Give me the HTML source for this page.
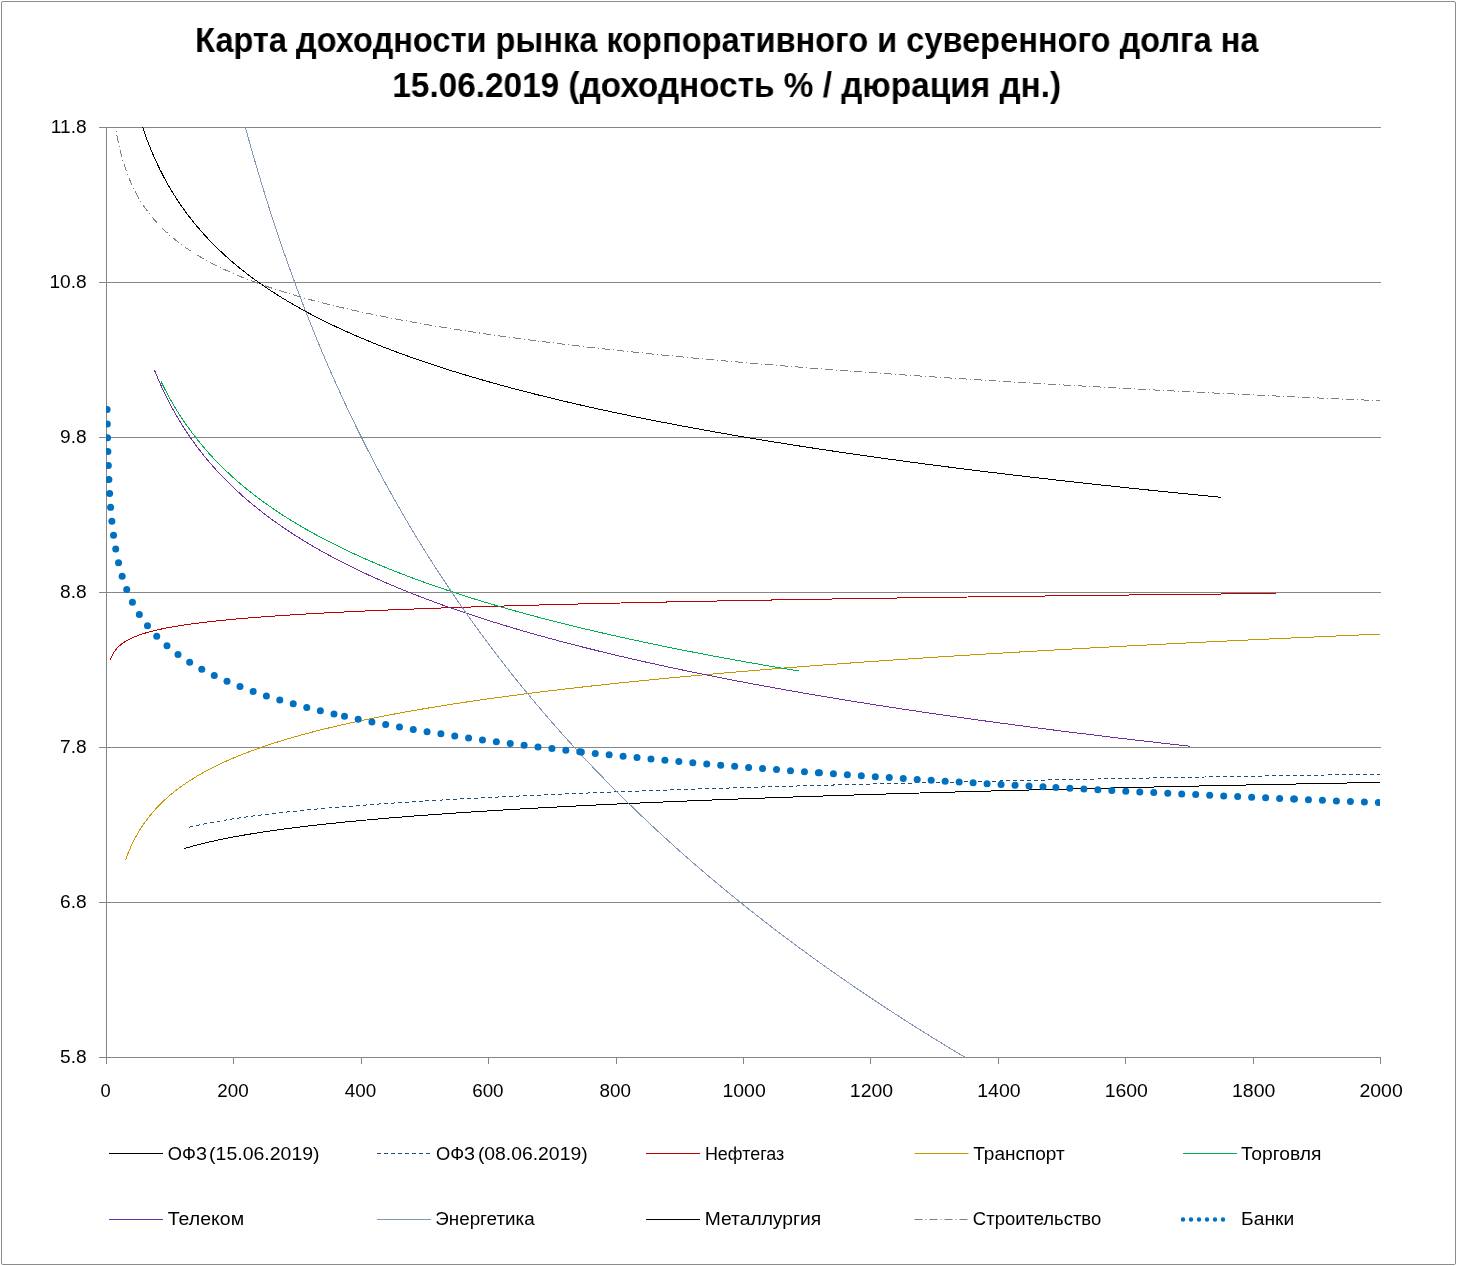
<!DOCTYPE html>
<html><head><meta charset="utf-8"><style>
html,body{margin:0;padding:0;background:#fff;}
body{width:1457px;height:1266px;position:relative;overflow:hidden;font-family:"Liberation Sans",sans-serif;}
#frame{position:absolute;left:1px;top:1px;width:1453px;height:1262px;border:1px solid #8c8c8c;border-radius:2px;}
.t{position:absolute;left:0;width:1457px;text-align:center;font-weight:bold;font-size:34.8px;white-space:nowrap;color:#000;line-height:1}
.t span{display:inline-block;will-change:transform}
svg{position:absolute;left:0;top:0;will-change:transform}
svg text{font-family:"Liberation Sans",sans-serif;font-size:18.3px;fill:#000}
</style></head><body>
<div id="frame"></div>
<div class="t" style="top:23px"><span style="transform:translateX(-1.3px) scaleX(0.936)">Карта доходности рынка корпоративного и суверенного долга на</span></div>
<div class="t" style="top:68px"><span style="transform:translateX(-2.3px) scaleX(0.958)">15.06.2019 (доходность % / дюрация дн.)</span></div>
<svg width="1457" height="1266" viewBox="0 0 1457 1266">
<defs><clipPath id="pc"><rect x="106" y="127" width="1274" height="931"/></clipPath></defs>
<g stroke="#868686" stroke-width="1" shape-rendering="crispEdges"><line x1="99" y1="127.5" x2="1381" y2="127.5"/><line x1="99" y1="282.5" x2="1381" y2="282.5"/><line x1="99" y1="437.5" x2="1381" y2="437.5"/><line x1="99" y1="592.5" x2="1381" y2="592.5"/><line x1="99" y1="747.5" x2="1381" y2="747.5"/><line x1="99" y1="902.5" x2="1381" y2="902.5"/><line x1="99" y1="1057.5" x2="1381" y2="1057.5"/>
<line x1="106.5" y1="127" x2="106.5" y2="1064"/><line x1="106.5" y1="1057" x2="106.5" y2="1064"/><line x1="233.9" y1="1057" x2="233.9" y2="1064"/><line x1="361.3" y1="1057" x2="361.3" y2="1064"/><line x1="488.7" y1="1057" x2="488.7" y2="1064"/><line x1="616.1" y1="1057" x2="616.1" y2="1064"/><line x1="743.5" y1="1057" x2="743.5" y2="1064"/><line x1="870.9" y1="1057" x2="870.9" y2="1064"/><line x1="998.3" y1="1057" x2="998.3" y2="1064"/><line x1="1125.7" y1="1057" x2="1125.7" y2="1064"/><line x1="1253.1" y1="1057" x2="1253.1" y2="1064"/><line x1="1380.5" y1="1057" x2="1380.5" y2="1064"/></g>
<g clip-path="url(#pc)">
<path d="M184.40 848.56 L185.13 848.34 L185.87 848.11 L186.62 847.89 L187.37 847.67 L188.13 847.45 L188.40 847.37 L188.89 847.23 L189.67 847.01 L190.45 846.79 L191.24 846.56 L192.03 846.34 L192.40 846.24 L192.83 846.12 L193.65 845.90 L194.46 845.68 L195.29 845.46 L196.12 845.24 L196.40 845.16 L196.97 845.02 L197.81 844.79 L198.67 844.57 L199.54 844.35 L200.40 844.13 L200.41 844.13 L201.29 843.91 L202.18 843.69 L203.08 843.47 L203.99 843.24 L204.40 843.14 L204.90 843.02 L205.83 842.80 L206.76 842.58 L207.70 842.36 L208.40 842.20 L208.65 842.14 L209.61 841.92 L210.58 841.69 L211.56 841.47 L212.40 841.28 L212.54 841.25 L213.54 841.03 L214.54 840.81 L215.56 840.59 L216.40 840.41 L216.58 840.37 L217.62 840.15 L218.66 839.92 L219.71 839.70 L220.40 839.56 L220.78 839.48 L221.85 839.26 L222.93 839.04 L224.03 838.82 L224.40 838.74 L225.13 838.60 L226.24 838.37 L227.37 838.15 L228.40 837.95 L228.50 837.93 L229.65 837.71 L230.80 837.49 L231.97 837.27 L232.40 837.19 L233.15 837.05 L234.34 836.83 L235.54 836.60 L236.40 836.45 L236.75 836.38 L237.97 836.16 L239.21 835.94 L240.40 835.73 L240.45 835.72 L241.71 835.50 L242.98 835.28 L244.26 835.05 L244.41 835.03 L245.56 834.83 L246.86 834.61 L248.18 834.39 L248.41 834.35 L249.51 834.17 L250.85 833.95 L252.21 833.73 L252.41 833.69 L253.58 833.50 L254.96 833.28 L256.35 833.06 L256.41 833.05 L257.76 832.84 L259.18 832.62 L260.41 832.43 L260.61 832.40 L262.06 832.18 L263.52 831.96 L264.41 831.82 L265.00 831.73 L266.48 831.51 L267.99 831.29 L268.41 831.23 L269.50 831.07 L271.03 830.85 L272.41 830.65 L272.58 830.63 L274.14 830.41 L275.71 830.18 L276.41 830.09 L277.30 829.96 L278.91 829.74 L280.41 829.54 L280.52 829.52 L282.16 829.30 L283.81 829.08 L284.41 829.00 L285.47 828.86 L287.15 828.64 L288.41 828.47 L288.85 828.41 L290.56 828.19 L292.29 827.97 L292.41 827.96 L294.03 827.75 L295.80 827.53 L296.41 827.45 L297.57 827.31 L299.37 827.09 L300.41 826.96 L301.18 826.86 L303.01 826.64 L304.41 826.47 L304.85 826.42 L306.71 826.20 L308.41 826.00 L308.59 825.98 L310.49 825.76 L312.41 825.54 L312.41 825.54 L314.34 825.31 L316.29 825.09 L316.41 825.08 L318.26 824.87 L320.25 824.65 L320.41 824.63 L322.26 824.43 L324.28 824.21 L324.41 824.19 L326.33 823.99 L328.39 823.77 L328.41 823.76 L330.48 823.54 L332.41 823.34 L332.58 823.32 L334.70 823.10 L336.41 822.92 L336.84 822.88 L339.01 822.66 L340.41 822.52 L341.19 822.44 L343.39 822.22 L344.41 822.11 L345.62 821.99 L347.86 821.77 L348.41 821.72 L350.13 821.55 L352.41 821.33 L352.42 821.33 L354.73 821.11 L356.41 820.95 L357.06 820.89 L359.41 820.67 L360.41 820.57 L361.79 820.45 L364.18 820.22 L364.42 820.20 L366.60 820.00 L368.42 819.84 L369.04 819.78 L371.51 819.56 L372.42 819.48 L374.00 819.34 L376.42 819.13 L376.51 819.12 L379.05 818.90 L380.42 818.78 L381.60 818.67 L384.19 818.45 L384.42 818.43 L386.80 818.23 L388.42 818.09 L389.43 818.01 L392.08 817.79 L392.42 817.76 L394.77 817.57 L396.42 817.43 L397.47 817.35 L400.20 817.12 L400.42 817.11 L402.96 816.90 L404.42 816.79 L405.75 816.68 L408.42 816.47 L408.56 816.46 L411.39 816.24 L412.42 816.16 L414.26 816.02 L416.42 815.85 L417.15 815.80 L420.06 815.58 L420.42 815.55 L423.01 815.35 L424.42 815.25 L425.98 815.13 L428.42 814.95 L428.98 814.91 L432.01 814.69 L432.42 814.66 L435.06 814.47 L436.42 814.37 L438.15 814.25 L440.42 814.09 L441.26 814.03 L444.41 813.80 L444.42 813.80 L447.58 813.58 L448.42 813.52 L450.78 813.36 L452.42 813.25 L454.01 813.14 L456.42 812.98 L457.28 812.92 L460.42 812.71 L460.57 812.70 L463.90 812.48 L464.42 812.44 L467.25 812.25 L468.42 812.18 L470.64 812.03 L472.42 811.92 L474.06 811.81 L476.42 811.66 L477.51 811.59 L480.42 811.41 L480.99 811.37 L484.43 811.15 L484.51 811.15 L488.06 810.93 L488.43 810.90 L491.64 810.71 L492.43 810.66 L495.26 810.48 L496.43 810.41 L498.91 810.26 L500.43 810.17 L502.59 810.04 L504.43 809.93 L506.31 809.82 L508.43 809.70 L510.07 809.60 L512.43 809.46 L513.86 809.38 L516.43 809.23 L517.68 809.16 L520.43 809.00 L521.54 808.93 L524.43 808.77 L525.44 808.71 L528.43 808.54 L529.37 808.49 L532.43 808.32 L533.34 808.27 L536.43 808.10 L537.35 808.05 L540.43 807.88 L541.40 807.83 L544.43 807.66 L545.48 807.61 L548.43 807.45 L549.60 807.39 L552.43 807.23 L553.76 807.16 L556.43 807.02 L557.96 806.94 L560.43 806.81 L562.20 806.72 L564.43 806.61 L566.48 806.50 L568.43 806.40 L570.80 806.28 L572.43 806.20 L575.16 806.06 L576.43 805.99 L579.56 805.84 L580.43 805.79 L584.00 805.61 L584.43 805.59 L588.43 805.40 L588.49 805.39 L592.43 805.20 L593.01 805.17 L596.43 805.01 L597.58 804.95 L600.43 804.81 L602.19 804.73 L604.44 804.62 L606.85 804.51 L608.44 804.43 L611.55 804.29 L612.44 804.24 L616.29 804.06 L616.44 804.06 L620.44 803.87 L621.08 803.84 L624.44 803.69 L625.91 803.62 L628.44 803.51 L630.78 803.40 L632.44 803.33 L635.71 803.18 L636.44 803.15 L640.44 802.97 L640.68 802.96 L644.44 802.79 L645.69 802.74 L648.44 802.62 L650.76 802.52 L652.44 802.44 L655.87 802.29 L656.44 802.27 L660.44 802.10 L661.02 802.07 L664.44 801.93 L666.23 801.85 L668.44 801.76 L671.49 801.63 L672.44 801.59 L676.44 801.42 L676.79 801.41 L680.44 801.26 L682.15 801.19 L684.44 801.09 L687.55 800.97 L688.44 800.93 L692.44 800.77 L693.01 800.74 L696.44 800.61 L698.52 800.52 L700.44 800.45 L704.08 800.30 L704.44 800.29 L708.44 800.13 L709.69 800.08 L712.44 799.97 L715.35 799.86 L716.44 799.82 L720.44 799.66 L721.07 799.64 L724.45 799.51 L726.84 799.42 L728.45 799.36 L732.45 799.20 L732.66 799.20 L736.45 799.05 L738.54 798.97 L740.45 798.90 L744.45 798.75 L744.48 798.75 L748.45 798.61 L750.47 798.53 L752.45 798.46 L756.45 798.31 L756.52 798.31 L760.45 798.17 L762.62 798.09 L764.45 798.02 L768.45 797.88 L768.78 797.87 L772.45 797.74 L775.00 797.65 L776.45 797.59 L780.45 797.45 L781.28 797.42 L784.45 797.31 L787.61 797.20 L788.45 797.17 L792.45 797.04 L794.01 796.98 L796.45 796.90 L800.45 796.76 L800.46 796.76 L804.45 796.62 L806.98 796.54 L808.45 796.49 L812.45 796.35 L813.56 796.32 L816.45 796.22 L820.20 796.10 L820.45 796.09 L824.45 795.96 L826.90 795.87 L828.45 795.82 L832.45 795.69 L833.66 795.65 L836.45 795.56 L840.45 795.43 L840.49 795.43 L844.46 795.30 L847.38 795.21 L848.46 795.18 L852.46 795.05 L854.34 794.99 L856.46 794.92 L860.46 794.80 L861.36 794.77 L864.46 794.67 L868.45 794.55 L868.46 794.55 L872.46 794.42 L875.60 794.33 L876.46 794.30 L880.46 794.18 L882.83 794.10 L884.46 794.05 L888.46 793.93 L890.12 793.88 L892.46 793.81 L896.46 793.69 L897.47 793.66 L900.46 793.57 L904.46 793.45 L904.90 793.44 L908.46 793.33 L912.40 793.22 L912.46 793.22 L916.46 793.10 L919.97 793.00 L920.46 792.98 L924.46 792.87 L927.60 792.78 L928.46 792.75 L932.46 792.64 L935.31 792.55 L936.46 792.52 L940.46 792.41 L943.10 792.33 L944.46 792.29 L948.46 792.18 L950.95 792.11 L952.46 792.07 L956.46 791.96 L958.88 791.89 L960.46 791.85 L964.47 791.74 L966.88 791.67 L968.47 791.63 L972.47 791.52 L974.96 791.45 L976.47 791.41 L980.47 791.30 L983.12 791.23 L984.47 791.19 L988.47 791.08 L991.35 791.01 L992.47 790.98 L996.47 790.87 L999.66 790.78 L1000.47 790.76 L1004.47 790.66 L1008.05 790.56 L1008.47 790.55 L1012.47 790.45 L1016.47 790.34 L1016.51 790.34 L1020.47 790.24 L1024.47 790.13 L1025.06 790.12 L1028.47 790.03 L1032.47 789.93 L1033.68 789.90 L1036.47 789.83 L1040.47 789.73 L1042.39 789.68 L1044.47 789.62 L1048.47 789.52 L1051.17 789.46 L1052.47 789.42 L1056.47 789.32 L1060.05 789.23 L1060.47 789.22 L1064.47 789.12 L1068.47 789.03 L1069.00 789.01 L1072.47 788.93 L1076.47 788.83 L1078.04 788.79 L1080.47 788.73 L1084.48 788.64 L1087.16 788.57 L1088.48 788.54 L1092.48 788.44 L1096.37 788.35 L1096.48 788.35 L1100.48 788.25 L1104.48 788.16 L1105.66 788.13 L1108.48 788.06 L1112.48 787.97 L1115.04 787.91 L1116.48 787.87 L1120.48 787.78 L1124.48 787.69 L1124.51 787.68 L1128.48 787.59 L1132.48 787.50 L1134.07 787.46 L1136.48 787.41 L1140.48 787.32 L1143.72 787.24 L1144.48 787.22 L1148.48 787.13 L1152.48 787.04 L1153.46 787.02 L1156.48 786.95 L1160.48 786.86 L1163.29 786.80 L1164.48 786.77 L1168.48 786.68 L1172.48 786.59 L1173.22 786.58 L1176.48 786.51 L1180.48 786.42 L1183.23 786.36 L1184.48 786.33 L1188.48 786.24 L1192.48 786.15 L1193.34 786.14 L1196.48 786.07 L1200.48 785.98 L1203.55 785.91 L1204.49 785.89 L1208.49 785.81 L1212.49 785.72 L1213.85 785.69 L1216.49 785.64 L1220.49 785.55 L1224.25 785.47 L1224.49 785.47 L1228.49 785.38 L1232.49 785.30 L1234.74 785.25 L1236.49 785.21 L1240.49 785.13 L1244.49 785.05 L1245.34 785.03 L1248.49 784.96 L1252.49 784.88 L1256.03 784.81 L1256.49 784.80 L1260.49 784.72 L1264.49 784.63 L1266.83 784.59 L1268.49 784.55 L1272.49 784.47 L1276.49 784.39 L1277.72 784.36 L1280.49 784.31 L1284.49 784.23 L1288.49 784.15 L1288.72 784.14 L1292.49 784.07 L1296.49 783.99 L1299.82 783.92 L1300.49 783.91 L1304.49 783.83 L1308.49 783.75 L1311.02 783.70 L1312.49 783.67 L1316.49 783.59 L1320.49 783.51 L1322.33 783.48 L1324.50 783.44 L1328.50 783.36 L1332.50 783.28 L1333.75 783.26 L1336.50 783.20 L1340.50 783.13 L1344.50 783.05 L1345.28 783.04 L1348.50 782.97 L1352.50 782.90 L1356.50 782.82 L1356.91 782.81 L1360.50 782.75 L1364.50 782.67 L1368.50 782.60 L1368.65 782.59 L1372.50 782.52 L1376.50 782.45 L1380.50 782.37" fill="none" stroke="#000" stroke-width="1" shape-rendering="crispEdges"/>
<path d="M189.20 827.15 L189.96 826.98 L190.73 826.80 L191.50 826.62 L192.28 826.44 L193.07 826.27 L193.18 826.24 L193.87 826.09 L194.67 825.91 L195.48 825.73 L196.30 825.56 L197.12 825.38 L197.17 825.37 L197.95 825.20 L198.79 825.02 L199.64 824.85 L200.50 824.67 L201.15 824.53 L201.36 824.49 L202.23 824.32 L203.11 824.14 L204.00 823.96 L204.90 823.78 L205.14 823.74 L205.80 823.61 L206.71 823.43 L207.63 823.25 L208.56 823.07 L209.12 822.97 L209.50 822.90 L210.45 822.72 L211.40 822.54 L212.37 822.36 L213.11 822.23 L213.34 822.19 L214.32 822.01 L215.31 821.83 L216.31 821.66 L217.09 821.52 L217.32 821.48 L218.34 821.30 L219.36 821.12 L220.40 820.95 L221.07 820.83 L221.45 820.77 L222.50 820.59 L223.57 820.41 L224.65 820.24 L225.06 820.17 L225.73 820.06 L226.83 819.88 L227.93 819.70 L229.04 819.53 L229.05 819.53 L230.17 819.35 L231.31 819.17 L232.46 819.00 L233.03 818.91 L233.61 818.82 L234.78 818.64 L235.96 818.46 L237.01 818.31 L237.15 818.29 L238.35 818.11 L239.56 817.93 L240.79 817.75 L241.00 817.72 L242.02 817.58 L243.26 817.40 L244.52 817.22 L244.98 817.16 L245.79 817.04 L247.07 816.87 L248.36 816.69 L248.96 816.61 L249.66 816.51 L250.98 816.34 L252.31 816.16 L252.95 816.07 L253.65 815.98 L255.00 815.80 L256.36 815.63 L256.93 815.55 L257.74 815.45 L259.13 815.27 L260.53 815.09 L260.92 815.05 L261.95 814.92 L263.38 814.74 L264.82 814.56 L264.90 814.55 L266.27 814.38 L267.74 814.21 L268.89 814.07 L269.22 814.03 L270.72 813.85 L272.22 813.67 L272.87 813.60 L273.75 813.50 L275.28 813.32 L276.83 813.14 L276.85 813.14 L278.40 812.97 L279.98 812.79 L280.84 812.69 L281.57 812.61 L283.18 812.43 L284.81 812.26 L284.82 812.25 L286.44 812.08 L288.10 811.90 L288.81 811.83 L289.77 811.72 L291.45 811.55 L292.79 811.41 L293.15 811.37 L294.86 811.19 L296.59 811.01 L296.78 811.00 L298.34 810.84 L300.10 810.66 L300.76 810.59 L301.88 810.48 L303.68 810.31 L304.74 810.20 L305.49 810.13 L307.32 809.95 L308.73 809.82 L309.16 809.77 L311.02 809.60 L312.71 809.44 L312.90 809.42 L314.80 809.24 L316.70 809.07 L316.71 809.06 L318.65 808.89 L320.59 808.71 L320.68 808.70 L322.56 808.53 L324.55 808.35 L324.67 808.34 L326.55 808.18 L328.57 808.00 L328.65 807.99 L330.61 807.82 L332.63 807.65 L332.67 807.65 L334.75 807.47 L336.62 807.31 L336.85 807.29 L338.96 807.11 L340.60 806.98 L341.10 806.94 L343.26 806.76 L344.59 806.65 L345.43 806.58 L347.63 806.40 L348.57 806.33 L349.84 806.23 L352.08 806.05 L352.56 806.01 L354.33 805.87 L356.54 805.70 L356.61 805.69 L358.91 805.52 L360.52 805.39 L361.23 805.34 L363.57 805.16 L364.51 805.09 L365.93 804.99 L368.31 804.81 L368.49 804.80 L370.72 804.63 L372.48 804.50 L373.15 804.45 L375.60 804.28 L376.46 804.21 L378.07 804.10 L380.45 803.93 L380.56 803.92 L383.08 803.74 L384.43 803.65 L385.62 803.57 L388.19 803.39 L388.41 803.37 L390.78 803.21 L392.40 803.10 L393.39 803.03 L396.02 802.86 L396.38 802.83 L398.69 802.68 L400.37 802.57 L401.37 802.50 L404.08 802.33 L404.35 802.31 L406.81 802.15 L408.34 802.05 L409.57 801.97 L412.32 801.80 L412.36 801.79 L415.17 801.62 L416.30 801.55 L418.00 801.44 L420.29 801.30 L420.87 801.26 L423.75 801.08 L424.27 801.05 L426.67 800.91 L428.26 800.81 L429.61 800.73 L432.24 800.57 L432.58 800.55 L435.58 800.37 L436.23 800.34 L438.60 800.20 L440.21 800.10 L441.65 800.02 L444.19 799.87 L444.73 799.84 L447.84 799.67 L448.18 799.65 L450.97 799.49 L452.16 799.42 L454.14 799.31 L456.15 799.20 L457.33 799.13 L460.13 798.98 L460.56 798.96 L463.81 798.78 L464.12 798.76 L467.09 798.60 L468.10 798.55 L470.41 798.42 L472.08 798.34 L473.75 798.25 L476.07 798.12 L477.12 798.07 L480.05 797.92 L480.53 797.89 L483.97 797.71 L484.04 797.71 L487.43 797.54 L488.02 797.51 L490.93 797.36 L492.01 797.31 L494.47 797.18 L495.99 797.11 L498.03 797.01 L499.97 796.91 L501.63 796.83 L503.96 796.71 L505.26 796.65 L507.94 796.52 L508.92 796.47 L511.93 796.33 L512.62 796.30 L515.91 796.14 L516.35 796.12 L519.90 795.95 L520.12 795.94 L523.88 795.77 L523.92 795.76 L527.75 795.59 L527.86 795.58 L531.62 795.41 L531.85 795.40 L535.53 795.23 L535.83 795.22 L539.47 795.05 L539.82 795.04 L543.45 794.88 L543.80 794.86 L547.46 794.70 L547.79 794.69 L551.52 794.52 L551.77 794.51 L555.60 794.35 L555.75 794.34 L559.73 794.17 L559.74 794.17 L563.72 794.00 L563.90 793.99 L567.71 793.83 L568.10 793.81 L571.69 793.66 L572.34 793.64 L575.68 793.50 L576.62 793.46 L579.66 793.33 L580.94 793.28 L583.64 793.17 L585.30 793.10 L587.63 793.01 L589.70 792.93 L591.61 792.85 L594.14 792.75 L595.60 792.69 L598.62 792.57 L599.58 792.53 L603.14 792.39 L603.57 792.38 L607.55 792.22 L607.70 792.22 L611.53 792.07 L612.31 792.04 L615.52 791.92 L616.95 791.86 L619.50 791.77 L621.65 791.69 L623.49 791.62 L626.38 791.51 L627.47 791.47 L631.15 791.33 L631.46 791.32 L635.44 791.17 L635.98 791.15 L639.42 791.03 L640.84 790.98 L643.41 790.88 L645.75 790.80 L647.39 790.74 L650.70 790.62 L651.38 790.60 L655.36 790.46 L655.70 790.44 L659.35 790.32 L660.75 790.27 L663.33 790.18 L665.84 790.09 L667.31 790.04 L670.98 789.91 L671.30 789.90 L675.28 789.77 L676.17 789.73 L679.27 789.63 L681.40 789.56 L683.25 789.50 L686.69 789.38 L687.24 789.36 L691.22 789.23 L692.02 789.20 L695.20 789.10 L697.40 789.03 L699.19 788.97 L702.83 788.85 L703.17 788.84 L707.16 788.71 L708.30 788.67 L711.14 788.58 L713.83 788.49 L715.13 788.45 L719.11 788.33 L719.41 788.32 L723.09 788.20 L725.05 788.14 L727.08 788.08 L730.73 787.96 L731.06 787.95 L735.05 787.83 L736.46 787.78 L739.03 787.71 L742.25 787.61 L743.02 787.58 L747.00 787.46 L748.09 787.43 L750.98 787.34 L753.99 787.25 L754.97 787.22 L758.95 787.10 L759.94 787.07 L762.94 786.99 L765.94 786.90 L766.92 786.87 L770.91 786.75 L772.00 786.72 L774.89 786.64 L778.12 786.54 L778.87 786.52 L782.86 786.41 L784.29 786.37 L786.84 786.29 L790.51 786.19 L790.83 786.18 L794.81 786.07 L796.80 786.01 L798.79 785.95 L802.78 785.84 L803.14 785.83 L806.76 785.73 L809.54 785.66 L810.75 785.62 L814.73 785.51 L816.00 785.48 L818.72 785.40 L822.52 785.30 L822.70 785.30 L826.68 785.19 L829.10 785.12 L830.67 785.08 L834.65 784.98 L835.74 784.95 L838.64 784.87 L842.44 784.77 L842.62 784.76 L846.61 784.66 L849.20 784.59 L850.59 784.56 L854.57 784.45 L856.03 784.41 L858.56 784.35 L862.54 784.25 L862.91 784.24 L866.53 784.15 L869.86 784.06 L870.51 784.04 L874.50 783.94 L876.88 783.88 L878.48 783.84 L882.46 783.74 L883.95 783.71 L886.45 783.64 L890.43 783.54 L891.10 783.53 L894.42 783.45 L898.31 783.35 L898.40 783.35 L902.39 783.25 L905.58 783.17 L906.37 783.15 L910.35 783.06 L912.92 783.00 L914.34 782.96 L918.32 782.87 L920.33 782.82 L922.31 782.77 L926.29 782.68 L927.81 782.64 L930.28 782.58 L934.26 782.49 L935.36 782.46 L938.24 782.40 L942.23 782.30 L942.97 782.29 L946.21 782.21 L950.20 782.12 L950.66 782.11 L954.18 782.03 L958.17 781.94 L958.41 781.93 L962.15 781.85 L966.13 781.76 L966.24 781.75 L970.12 781.67 L974.10 781.58 L974.14 781.58 L978.09 781.49 L982.07 781.40 L982.11 781.40 L986.06 781.31 L990.04 781.23 L990.16 781.22 L994.02 781.14 L998.01 781.05 L998.28 781.05 L1001.99 780.96 L1005.98 780.88 L1006.47 780.87 L1009.96 780.79 L1013.95 780.71 L1014.74 780.69 L1017.93 780.62 L1021.91 780.54 L1023.09 780.51 L1025.90 780.45 L1029.88 780.37 L1031.51 780.34 L1033.87 780.29 L1037.85 780.20 L1040.01 780.16 L1041.84 780.12 L1045.82 780.04 L1048.58 779.98 L1049.80 779.96 L1053.79 779.87 L1057.24 779.80 L1057.77 779.79 L1061.76 779.71 L1065.74 779.63 L1065.98 779.63 L1069.73 779.55 L1073.71 779.47 L1074.79 779.45 L1077.69 779.39 L1081.68 779.31 L1083.69 779.27 L1085.66 779.23 L1089.65 779.15 L1092.67 779.09 L1093.63 779.08 L1097.62 779.00 L1101.60 778.92 L1101.73 778.92 L1105.58 778.84 L1109.57 778.77 L1110.87 778.74 L1113.55 778.69 L1117.54 778.61 L1120.10 778.56 L1121.52 778.54 L1125.51 778.46 L1129.41 778.39 L1129.49 778.38 L1133.47 778.31 L1137.46 778.23 L1138.81 778.21 L1141.44 778.16 L1145.43 778.08 L1148.30 778.03 L1149.41 778.01 L1153.40 777.94 L1157.38 777.86 L1157.87 777.85 L1161.36 777.79 L1165.35 777.72 L1167.53 777.68 L1169.33 777.64 L1173.32 777.57 L1177.28 777.50 L1177.30 777.50 L1181.29 777.43 L1185.27 777.35 L1187.12 777.32 L1189.25 777.28 L1193.24 777.21 L1197.04 777.14 L1197.22 777.14 L1201.21 777.07 L1205.19 777.00 L1207.06 776.97 L1209.18 776.93 L1213.16 776.86 L1217.14 776.79 L1217.18 776.79 L1221.13 776.72 L1225.11 776.65 L1227.38 776.61 L1229.10 776.58 L1233.08 776.51 L1237.07 776.45 L1237.68 776.43 L1241.05 776.38 L1245.03 776.31 L1248.07 776.26 L1249.02 776.24 L1253.00 776.17 L1256.99 776.11 L1258.56 776.08 L1260.97 776.04 L1264.96 775.97 L1268.94 775.91 L1269.15 775.90 L1272.92 775.84 L1276.91 775.77 L1279.83 775.73 L1280.89 775.71 L1284.88 775.64 L1288.86 775.58 L1290.61 775.55 L1292.85 775.51 L1296.83 775.45 L1300.81 775.38 L1301.49 775.37 L1304.80 775.32 L1308.78 775.25 L1312.47 775.19 L1312.77 775.19 L1316.75 775.12 L1320.74 775.06 L1323.55 775.02 L1324.72 775.00 L1328.70 774.93 L1332.69 774.87 L1334.73 774.84 L1336.67 774.81 L1340.66 774.75 L1344.64 774.68 L1346.02 774.66 L1348.63 774.62 L1352.61 774.56 L1356.59 774.50 L1357.41 774.48 L1360.58 774.44 L1364.56 774.37 L1368.55 774.31 L1368.90 774.31 L1372.53 774.25 L1376.52 774.19 L1380.50 774.13" fill="none" stroke="#1F4E79" stroke-width="1" stroke-dasharray="4 3" shape-rendering="crispEdges"/>
<path d="M110.30 660.09 L110.37 659.87 L110.45 659.65 L110.52 659.42 L110.60 659.20 L110.68 658.98 L110.76 658.76 L110.85 658.53 L110.93 658.31 L111.02 658.09 L111.10 657.86 L111.19 657.64 L111.28 657.42 L111.37 657.19 L111.47 656.97 L111.57 656.75 L111.66 656.53 L111.76 656.30 L111.87 656.08 L111.97 655.86 L112.07 655.63 L112.18 655.41 L112.29 655.19 L112.40 654.97 L112.52 654.74 L112.64 654.52 L112.75 654.30 L112.87 654.07 L113.00 653.85 L113.12 653.63 L113.25 653.41 L113.38 653.18 L113.52 652.96 L113.65 652.74 L113.79 652.51 L113.93 652.29 L114.07 652.07 L114.20 651.88 L114.22 651.85 L114.37 651.62 L114.52 651.40 L114.68 651.18 L114.84 650.95 L115.00 650.73 L115.16 650.51 L115.33 650.28 L115.50 650.06 L115.67 649.84 L115.85 649.62 L116.03 649.39 L116.22 649.17 L116.41 648.95 L116.60 648.72 L116.79 648.50 L116.99 648.28 L117.19 648.06 L117.40 647.83 L117.61 647.61 L117.83 647.39 L118.05 647.16 L118.10 647.11 L118.27 646.94 L118.50 646.72 L118.73 646.50 L118.97 646.27 L119.21 646.05 L119.45 645.83 L119.70 645.60 L119.96 645.38 L120.22 645.16 L120.49 644.94 L120.76 644.71 L121.03 644.49 L121.31 644.27 L121.60 644.04 L121.89 643.82 L122.00 643.74 L122.19 643.60 L122.49 643.37 L122.80 643.15 L123.12 642.93 L123.44 642.71 L123.77 642.48 L124.10 642.26 L124.44 642.04 L124.79 641.81 L125.14 641.59 L125.50 641.37 L125.87 641.15 L125.89 641.13 L126.25 640.92 L126.63 640.70 L127.02 640.48 L127.41 640.25 L127.82 640.03 L128.23 639.81 L128.65 639.59 L129.08 639.36 L129.52 639.14 L129.79 639.00 L129.96 638.92 L130.42 638.69 L130.88 638.47 L131.35 638.25 L131.83 638.03 L132.32 637.80 L132.82 637.58 L133.33 637.36 L133.69 637.20 L133.85 637.13 L134.38 636.91 L134.92 636.69 L135.47 636.46 L136.03 636.24 L136.60 636.02 L137.18 635.80 L137.59 635.64 L137.77 635.57 L138.38 635.35 L139.00 635.13 L139.62 634.90 L140.27 634.68 L140.92 634.46 L141.49 634.27 L141.58 634.24 L142.26 634.01 L142.95 633.79 L143.66 633.57 L144.38 633.34 L145.11 633.12 L145.39 633.04 L145.86 632.90 L146.62 632.68 L147.40 632.45 L148.19 632.23 L148.99 632.01 L149.29 631.93 L149.82 631.78 L150.65 631.56 L151.51 631.34 L152.38 631.12 L153.19 630.91 L153.27 630.89 L154.17 630.67 L155.09 630.45 L156.03 630.22 L156.99 630.00 L157.08 629.98 L157.97 629.78 L158.96 629.56 L159.98 629.33 L160.98 629.12 L161.01 629.11 L162.07 628.89 L163.14 628.66 L164.24 628.44 L164.88 628.31 L165.36 628.22 L166.50 627.99 L167.66 627.77 L168.78 627.56 L168.84 627.55 L170.05 627.33 L171.28 627.10 L172.53 626.88 L172.68 626.85 L173.81 626.66 L175.11 626.43 L176.44 626.21 L176.58 626.19 L177.79 625.99 L179.17 625.77 L180.48 625.56 L180.57 625.54 L182.01 625.32 L183.47 625.10 L184.37 624.96 L184.96 624.87 L186.47 624.65 L188.02 624.43 L188.27 624.39 L189.60 624.21 L191.21 623.98 L192.17 623.85 L192.84 623.76 L194.52 623.54 L196.07 623.33 L196.22 623.31 L197.95 623.09 L199.72 622.87 L199.97 622.84 L201.53 622.65 L203.37 622.42 L203.87 622.36 L205.24 622.20 L207.15 621.98 L207.77 621.91 L209.10 621.75 L211.08 621.53 L211.67 621.47 L213.10 621.31 L215.17 621.08 L215.56 621.04 L217.27 620.86 L219.41 620.64 L219.46 620.63 L221.60 620.42 L223.36 620.24 L223.82 620.19 L226.09 619.97 L227.26 619.86 L228.41 619.75 L230.77 619.52 L231.16 619.49 L233.17 619.30 L235.06 619.13 L235.62 619.08 L238.12 618.86 L238.96 618.78 L240.66 618.63 L242.85 618.44 L243.26 618.41 L245.91 618.19 L246.75 618.12 L248.60 617.96 L250.65 617.80 L251.35 617.74 L254.15 617.52 L254.55 617.49 L257.01 617.30 L258.45 617.18 L259.92 617.07 L262.35 616.89 L262.89 616.85 L265.92 616.63 L266.25 616.60 L269.00 616.40 L270.15 616.32 L272.14 616.18 L274.04 616.05 L275.35 615.96 L277.94 615.78 L278.62 615.74 L281.84 615.52 L281.95 615.51 L285.34 615.29 L285.74 615.26 L288.80 615.07 L289.64 615.01 L292.33 614.84 L293.54 614.77 L295.92 614.62 L297.44 614.53 L299.59 614.40 L301.33 614.29 L303.32 614.17 L305.23 614.06 L307.13 613.95 L309.13 613.84 L311.01 613.73 L313.03 613.61 L314.97 613.51 L316.93 613.40 L319.00 613.28 L320.83 613.18 L323.11 613.06 L324.73 612.97 L327.30 612.84 L328.63 612.77 L331.57 612.61 L332.52 612.57 L335.93 612.39 L336.42 612.37 L340.32 612.17 L340.37 612.17 L344.22 611.98 L344.89 611.95 L348.12 611.79 L349.50 611.72 L352.02 611.60 L354.21 611.50 L355.92 611.42 L359.00 611.28 L359.81 611.24 L363.71 611.06 L363.88 611.05 L367.61 610.89 L368.86 610.83 L371.51 610.71 L373.94 610.61 L375.41 610.54 L379.11 610.39 L379.31 610.38 L383.21 610.21 L384.39 610.16 L387.11 610.05 L389.76 609.94 L391.00 609.89 L394.90 609.73 L395.24 609.72 L398.80 609.57 L400.83 609.49 L402.70 609.42 L406.52 609.27 L406.60 609.27 L410.50 609.12 L412.33 609.05 L414.40 608.97 L418.24 608.83 L418.29 608.82 L422.19 608.68 L424.27 608.60 L426.09 608.54 L429.99 608.39 L430.42 608.38 L433.89 608.26 L436.69 608.16 L437.79 608.12 L441.69 607.98 L443.08 607.93 L445.58 607.85 L449.48 607.71 L449.59 607.71 L453.38 607.58 L456.23 607.49 L457.28 607.45 L461.18 607.32 L462.99 607.26 L465.08 607.20 L468.98 607.07 L469.89 607.04 L472.88 606.95 L476.77 606.82 L476.92 606.82 L480.67 606.70 L484.08 606.60 L484.57 606.58 L488.47 606.46 L491.39 606.37 L492.37 606.34 L496.27 606.23 L498.84 606.15 L500.17 606.11 L504.06 606.00 L506.43 605.93 L507.96 605.88 L511.86 605.77 L514.16 605.70 L515.76 605.66 L519.66 605.55 L522.05 605.48 L523.56 605.44 L527.46 605.33 L530.09 605.26 L531.36 605.22 L535.25 605.12 L538.28 605.04 L539.15 605.01 L543.05 604.91 L546.64 604.81 L546.95 604.80 L550.85 604.70 L554.75 604.60 L555.15 604.59 L558.65 604.50 L562.54 604.40 L563.83 604.37 L566.44 604.30 L570.34 604.20 L572.68 604.14 L574.24 604.11 L578.14 604.01 L581.70 603.92 L582.04 603.91 L585.94 603.82 L589.84 603.72 L590.89 603.70 L593.73 603.63 L597.63 603.54 L600.26 603.48 L601.53 603.45 L605.43 603.35 L609.33 603.26 L609.82 603.25 L613.23 603.17 L617.13 603.08 L619.55 603.03 L621.02 603.00 L624.92 602.91 L628.82 602.82 L629.48 602.81 L632.72 602.73 L636.62 602.65 L639.60 602.58 L640.52 602.56 L644.42 602.48 L648.32 602.40 L649.91 602.36 L652.21 602.31 L656.11 602.23 L660.01 602.15 L660.42 602.14 L663.91 602.07 L667.81 601.98 L671.14 601.92 L671.71 601.90 L675.61 601.82 L679.50 601.74 L682.06 601.69 L683.40 601.67 L687.30 601.59 L691.20 601.51 L693.20 601.47 L695.10 601.43 L699.00 601.35 L702.90 601.28 L704.55 601.25 L706.80 601.20 L710.69 601.13 L714.59 601.05 L716.12 601.02 L718.49 600.98 L722.39 600.90 L726.29 600.83 L727.91 600.80 L730.19 600.76 L734.09 600.69 L737.98 600.61 L739.94 600.58 L741.88 600.54 L745.78 600.47 L749.68 600.40 L752.19 600.35 L753.58 600.33 L757.48 600.26 L761.38 600.19 L764.68 600.13 L765.28 600.12 L769.17 600.05 L773.07 599.98 L776.97 599.92 L777.42 599.91 L780.87 599.85 L784.77 599.78 L788.67 599.72 L790.40 599.69 L792.57 599.65 L796.46 599.58 L800.36 599.52 L803.63 599.46 L804.26 599.45 L808.16 599.39 L812.06 599.32 L815.96 599.26 L817.11 599.24 L819.86 599.20 L823.76 599.13 L827.65 599.07 L830.86 599.02 L831.55 599.01 L835.45 598.94 L839.35 598.88 L843.25 598.82 L844.88 598.79 L847.15 598.76 L851.05 598.70 L854.94 598.64 L858.84 598.58 L859.16 598.57 L862.74 598.52 L866.64 598.46 L870.54 598.40 L873.72 598.35 L874.44 598.34 L878.34 598.28 L882.24 598.22 L886.13 598.16 L888.56 598.13 L890.03 598.10 L893.93 598.05 L897.83 597.99 L901.73 597.93 L903.69 597.90 L905.63 597.87 L909.53 597.82 L913.42 597.76 L917.32 597.71 L919.12 597.68 L921.22 597.65 L925.12 597.59 L929.02 597.54 L932.92 597.48 L934.84 597.46 L936.82 597.43 L940.72 597.37 L944.61 597.32 L948.51 597.27 L950.86 597.23 L952.41 597.21 L956.31 597.16 L960.21 597.11 L964.11 597.05 L967.20 597.01 L968.01 597.00 L971.90 596.95 L975.80 596.90 L979.70 596.84 L983.60 596.79 L983.85 596.79 L987.50 596.74 L991.40 596.69 L995.30 596.64 L999.19 596.59 L1000.82 596.57 L1003.09 596.54 L1006.99 596.49 L1010.89 596.44 L1014.79 596.39 L1018.13 596.34 L1018.69 596.34 L1022.59 596.29 L1026.49 596.24 L1030.38 596.19 L1034.28 596.14 L1035.76 596.12 L1038.18 596.09 L1042.08 596.04 L1045.98 595.99 L1049.88 595.94 L1053.74 595.90 L1053.78 595.90 L1057.67 595.85 L1061.57 595.80 L1065.47 595.75 L1069.37 595.71 L1072.07 595.67 L1073.27 595.66 L1077.17 595.61 L1081.07 595.57 L1084.97 595.52 L1088.86 595.47 L1090.75 595.45 L1092.76 595.43 L1096.66 595.38 L1100.56 595.34 L1104.46 595.29 L1108.36 595.24 L1109.79 595.23 L1112.26 595.20 L1116.15 595.15 L1120.05 595.11 L1123.95 595.06 L1127.85 595.02 L1129.20 595.01 L1131.75 594.98 L1135.65 594.93 L1139.55 594.89 L1143.45 594.84 L1147.34 594.80 L1148.98 594.78 L1151.24 594.76 L1155.14 594.71 L1159.04 594.67 L1162.94 594.63 L1166.84 594.58 L1169.15 594.56 L1170.74 594.54 L1174.63 594.50 L1178.53 594.46 L1182.43 594.41 L1186.33 594.37 L1189.71 594.34 L1190.23 594.33 L1194.13 594.29 L1198.03 594.25 L1201.93 594.21 L1205.82 594.16 L1209.72 594.12 L1210.67 594.11 L1213.62 594.08 L1217.52 594.04 L1221.42 594.00 L1225.32 593.96 L1229.22 593.92 L1232.03 593.89 L1233.11 593.88 L1237.01 593.84 L1240.91 593.80 L1244.81 593.76 L1248.71 593.72 L1252.61 593.68 L1253.80 593.67 L1256.51 593.64 L1260.41 593.60 L1264.30 593.56 L1268.20 593.52 L1272.10 593.48 L1276.00 593.44" fill="none" stroke="#C00000" stroke-width="1" shape-rendering="crispEdges"/>
<path d="M125.40 860.37 L125.67 859.61 L125.94 858.85 L126.22 858.10 L126.50 857.34 L126.78 856.58 L127.07 855.83 L127.36 855.07 L127.65 854.31 L127.95 853.56 L128.26 852.80 L128.57 852.04 L128.88 851.29 L129.20 850.53 L129.52 849.77 L129.60 849.59 L129.85 849.02 L130.18 848.26 L130.51 847.50 L130.85 846.74 L131.20 845.99 L131.55 845.23 L131.90 844.47 L132.26 843.72 L132.63 842.96 L133.00 842.20 L133.38 841.45 L133.76 840.69 L133.80 840.62 L134.14 839.93 L134.54 839.18 L134.93 838.42 L135.34 837.66 L135.75 836.91 L136.16 836.15 L136.58 835.39 L137.01 834.64 L137.44 833.88 L137.88 833.12 L137.99 832.93 L138.32 832.37 L138.78 831.61 L139.23 830.85 L139.70 830.10 L140.17 829.34 L140.65 828.58 L141.13 827.83 L141.62 827.07 L142.12 826.31 L142.19 826.21 L142.62 825.56 L143.14 824.80 L143.66 824.04 L144.18 823.29 L144.72 822.53 L145.26 821.77 L145.81 821.02 L146.37 820.26 L146.39 820.23 L146.93 819.50 L147.51 818.75 L148.09 817.99 L148.68 817.23 L149.28 816.48 L149.88 815.72 L150.50 814.96 L150.59 814.85 L151.12 814.21 L151.75 813.45 L152.40 812.69 L153.05 811.94 L153.71 811.18 L154.38 810.42 L154.78 809.97 L155.06 809.67 L155.74 808.91 L156.44 808.15 L157.15 807.40 L157.87 806.64 L158.60 805.88 L158.98 805.49 L159.34 805.13 L160.09 804.37 L160.85 803.61 L161.62 802.86 L162.40 802.10 L163.18 801.35 L163.19 801.34 L164.00 800.58 L164.81 799.83 L165.64 799.07 L166.48 798.31 L167.33 797.56 L167.38 797.51 L168.19 796.80 L169.06 796.04 L169.95 795.29 L170.85 794.53 L171.57 793.93 L171.76 793.77 L172.69 793.02 L173.63 792.26 L174.58 791.50 L175.55 790.75 L175.77 790.57 L176.53 789.99 L177.52 789.23 L178.53 788.48 L179.55 787.72 L179.97 787.41 L180.58 786.96 L181.63 786.21 L182.70 785.45 L183.78 784.69 L184.17 784.43 L184.88 783.94 L185.99 783.18 L187.12 782.42 L188.26 781.67 L188.36 781.60 L189.42 780.91 L190.59 780.15 L191.79 779.40 L192.56 778.91 L193.00 778.64 L194.22 777.88 L195.47 777.13 L196.73 776.37 L196.76 776.35 L198.01 775.61 L199.31 774.86 L200.62 774.10 L200.96 773.91 L201.96 773.34 L203.31 772.59 L204.68 771.83 L205.16 771.57 L206.08 771.07 L207.49 770.32 L208.92 769.56 L209.35 769.33 L210.37 768.80 L211.85 768.05 L213.34 767.29 L213.55 767.18 L214.86 766.53 L216.39 765.78 L217.75 765.12 L217.95 765.02 L219.53 764.26 L221.14 763.51 L221.95 763.13 L222.76 762.75 L224.41 761.99 L226.08 761.24 L226.14 761.21 L227.78 760.48 L229.50 759.72 L230.34 759.35 L231.24 758.97 L233.01 758.21 L234.54 757.56 L234.81 757.45 L236.63 756.69 L238.47 755.94 L238.74 755.83 L240.34 755.18 L242.24 754.42 L242.93 754.15 L244.17 753.67 L246.12 752.91 L247.13 752.52 L248.10 752.15 L250.11 751.40 L251.33 750.94 L252.14 750.64 L254.21 749.88 L255.53 749.41 L256.30 749.13 L258.43 748.37 L259.73 747.91 L260.58 747.61 L262.77 746.86 L263.92 746.46 L264.99 746.10 L267.23 745.34 L268.12 745.05 L269.51 744.59 L271.82 743.83 L272.32 743.67 L274.17 743.07 L276.52 742.33 L276.55 742.32 L278.96 741.56 L280.71 741.02 L281.41 740.80 L283.89 740.05 L284.91 739.74 L286.40 739.29 L288.95 738.53 L289.11 738.49 L291.54 737.78 L293.31 737.27 L294.16 737.02 L296.83 736.26 L297.50 736.07 L299.53 735.51 L301.70 734.90 L302.26 734.75 L305.04 733.99 L305.90 733.76 L307.86 733.24 L310.10 732.64 L310.71 732.48 L313.61 731.72 L314.29 731.55 L316.54 730.97 L318.49 730.47 L319.52 730.21 L322.54 729.45 L322.69 729.42 L325.61 728.70 L326.89 728.38 L328.72 727.94 L331.09 727.37 L331.87 727.18 L335.06 726.43 L335.28 726.37 L338.31 725.67 L339.48 725.40 L341.59 724.91 L343.68 724.44 L344.93 724.16 L347.88 723.50 L348.31 723.40 L351.74 722.64 L352.07 722.57 L355.22 721.89 L356.27 721.66 L358.74 721.13 L360.47 720.76 L362.32 720.37 L364.67 719.88 L365.95 719.62 L368.86 719.02 L369.63 718.86 L373.06 718.16 L373.36 718.10 L377.15 717.35 L377.26 717.32 L380.98 716.59 L381.46 716.50 L384.88 715.83 L385.65 715.68 L388.82 715.08 L389.85 714.88 L392.83 714.32 L394.05 714.09 L396.89 713.56 L398.25 713.31 L401.01 712.81 L402.45 712.54 L405.18 712.05 L406.64 711.79 L409.42 711.29 L410.84 711.04 L413.72 710.53 L415.04 710.30 L418.07 709.78 L419.24 709.58 L422.49 709.02 L423.43 708.86 L426.97 708.26 L427.63 708.15 L431.52 707.51 L431.83 707.46 L436.03 706.77 L436.13 706.75 L440.22 706.09 L440.80 705.99 L444.42 705.42 L445.55 705.24 L448.62 704.75 L450.35 704.48 L452.82 704.10 L455.23 703.72 L457.02 703.45 L460.18 702.97 L461.21 702.81 L465.19 702.21 L465.41 702.18 L469.61 701.55 L470.28 701.45 L473.81 700.94 L475.44 700.70 L478.00 700.33 L480.67 699.94 L482.20 699.72 L485.98 699.18 L486.40 699.12 L490.60 698.53 L491.36 698.43 L494.79 697.95 L496.82 697.67 L498.99 697.37 L502.35 696.91 L503.19 696.80 L507.39 696.23 L507.97 696.16 L511.58 695.68 L513.66 695.40 L515.78 695.12 L519.44 694.64 L519.98 694.57 L524.18 694.03 L525.29 693.89 L528.38 693.49 L531.23 693.13 L532.57 692.96 L536.77 692.43 L537.26 692.37 L540.97 691.91 L543.37 691.62 L545.17 691.40 L549.36 690.88 L549.56 690.86 L553.56 690.38 L555.84 690.10 L557.76 689.87 L561.96 689.38 L562.22 689.35 L566.15 688.88 L568.68 688.59 L570.35 688.40 L574.55 687.91 L575.24 687.83 L578.75 687.43 L581.88 687.08 L582.94 686.96 L587.14 686.49 L588.63 686.32 L591.34 686.02 L595.46 685.56 L595.54 685.55 L599.74 685.10 L602.40 684.81 L603.93 684.64 L608.13 684.19 L609.43 684.05 L612.33 683.74 L616.53 683.30 L616.56 683.29 L620.72 682.86 L623.80 682.54 L624.92 682.42 L629.12 681.99 L631.13 681.78 L633.32 681.56 L637.51 681.13 L638.57 681.02 L641.71 680.71 L645.91 680.29 L646.12 680.27 L650.11 679.87 L653.77 679.51 L654.31 679.46 L658.50 679.05 L661.54 678.75 L662.70 678.64 L666.90 678.24 L669.41 678.00 L671.10 677.83 L675.29 677.44 L677.39 677.24 L679.49 677.04 L683.69 676.65 L685.49 676.48 L687.89 676.26 L692.08 675.87 L693.70 675.73 L696.28 675.49 L700.48 675.11 L702.03 674.97 L704.68 674.73 L708.87 674.35 L710.47 674.21 L713.07 673.98 L717.27 673.61 L719.04 673.46 L721.47 673.24 L725.67 672.88 L727.73 672.70 L729.86 672.51 L734.06 672.15 L736.54 671.94 L738.26 671.80 L742.46 671.44 L745.47 671.19 L746.65 671.09 L750.85 670.73 L754.53 670.43 L755.05 670.39 L759.25 670.04 L763.44 669.69 L763.72 669.67 L767.64 669.35 L771.84 669.01 L773.05 668.92 L776.04 668.67 L780.23 668.34 L782.50 668.16 L784.43 668.00 L788.63 667.67 L792.09 667.40 L792.83 667.34 L797.03 667.02 L801.22 666.69 L801.81 666.64 L805.42 666.37 L809.62 666.04 L811.67 665.89 L813.82 665.73 L818.01 665.41 L821.67 665.13 L822.21 665.09 L826.41 664.78 L830.61 664.46 L831.81 664.37 L834.80 664.15 L839.00 663.84 L842.10 663.62 L843.20 663.54 L847.40 663.23 L851.59 662.93 L852.53 662.86 L855.79 662.63 L859.99 662.33 L863.11 662.10 L864.19 662.03 L868.39 661.73 L872.58 661.44 L873.84 661.35 L876.78 661.14 L880.98 660.85 L884.73 660.59 L885.18 660.56 L889.37 660.27 L893.57 659.98 L895.76 659.83 L897.77 659.70 L901.97 659.41 L906.16 659.13 L906.96 659.08 L910.36 658.85 L914.56 658.57 L918.31 658.32 L918.76 658.29 L922.96 658.01 L927.15 657.74 L929.82 657.56 L931.35 657.46 L935.55 657.19 L939.75 656.92 L941.50 656.81 L943.94 656.65 L948.14 656.38 L952.34 656.11 L953.34 656.05 L956.54 655.85 L960.73 655.58 L964.93 655.32 L965.35 655.29 L969.13 655.06 L973.33 654.80 L977.52 654.54 L977.53 654.54 L981.72 654.28 L985.92 654.02 L989.89 653.78 L990.12 653.77 L994.32 653.51 L998.51 653.26 L1002.42 653.02 L1002.71 653.01 L1006.91 652.76 L1011.11 652.51 L1015.12 652.27 L1015.30 652.26 L1019.50 652.01 L1023.70 651.76 L1027.90 651.52 L1028.01 651.51 L1032.09 651.27 L1036.29 651.03 L1040.49 650.79 L1041.08 650.75 L1044.69 650.55 L1048.88 650.31 L1053.08 650.07 L1054.33 650.00 L1057.28 649.83 L1061.48 649.59 L1065.68 649.36 L1067.78 649.24 L1069.87 649.12 L1074.07 648.89 L1078.27 648.66 L1081.41 648.48 L1082.47 648.43 L1086.66 648.19 L1090.86 647.97 L1095.06 647.74 L1095.24 647.73 L1099.26 647.51 L1103.45 647.28 L1107.65 647.06 L1109.26 646.97 L1111.85 646.83 L1116.05 646.61 L1120.25 646.38 L1123.48 646.21 L1124.44 646.16 L1128.64 645.94 L1132.84 645.72 L1137.04 645.50 L1137.90 645.46 L1141.23 645.28 L1145.43 645.07 L1149.63 644.85 L1152.53 644.70 L1153.83 644.63 L1158.02 644.42 L1162.22 644.20 L1166.42 643.99 L1167.37 643.94 L1170.62 643.78 L1174.81 643.57 L1179.01 643.36 L1182.41 643.19 L1183.21 643.15 L1187.41 642.94 L1191.61 642.73 L1195.80 642.52 L1197.67 642.43 L1200.00 642.32 L1204.20 642.11 L1208.40 641.90 L1212.59 641.70 L1213.15 641.67 L1216.79 641.50 L1220.99 641.29 L1225.19 641.09 L1228.84 640.92 L1229.38 640.89 L1233.58 640.69 L1237.78 640.49 L1241.98 640.29 L1244.76 640.16 L1246.17 640.09 L1250.37 639.90 L1254.57 639.70 L1258.77 639.50 L1260.90 639.40 L1262.97 639.31 L1267.16 639.11 L1271.36 638.92 L1275.56 638.73 L1277.27 638.65 L1279.76 638.53 L1283.95 638.34 L1288.15 638.15 L1292.35 637.96 L1293.88 637.89 L1296.55 637.77 L1300.74 637.58 L1304.94 637.39 L1309.14 637.20 L1310.72 637.13 L1313.34 637.02 L1317.54 636.83 L1321.73 636.64 L1325.93 636.46 L1327.80 636.38 L1330.13 636.27 L1334.33 636.09 L1338.52 635.91 L1342.72 635.72 L1345.12 635.62 L1346.92 635.54 L1351.12 635.36 L1355.31 635.18 L1359.51 635.00 L1362.68 634.86 L1363.71 634.82 L1367.91 634.64 L1372.10 634.46 L1376.30 634.28 L1380.50 634.11" fill="none" stroke="#C59700" stroke-width="1" shape-rendering="crispEdges"/>
<path d="M161.10 381.57 L161.57 382.54 L162.04 383.51 L162.51 384.48 L162.99 385.44 L163.23 385.94 L163.47 386.41 L163.96 387.38 L164.45 388.35 L164.94 389.32 L165.37 390.15 L165.44 390.28 L165.94 391.25 L166.45 392.22 L166.96 393.19 L167.48 394.16 L167.50 394.20 L168.00 395.13 L168.52 396.09 L169.05 397.06 L169.58 398.03 L169.63 398.12 L170.12 399.00 L170.66 399.97 L171.21 400.93 L171.76 401.90 L171.77 401.91 L172.32 402.87 L172.88 403.84 L173.45 404.81 L173.90 405.57 L174.02 405.77 L174.60 406.74 L175.18 407.71 L175.76 408.68 L176.03 409.12 L176.35 409.65 L176.95 410.61 L177.55 411.58 L178.16 412.55 L178.17 412.57 L178.77 413.52 L179.39 414.49 L180.01 415.46 L180.30 415.91 L180.63 416.42 L181.27 417.39 L181.91 418.36 L182.43 419.16 L182.55 419.33 L183.20 420.30 L183.85 421.26 L184.51 422.23 L184.57 422.31 L185.18 423.20 L185.85 424.17 L186.53 425.14 L186.70 425.39 L187.21 426.10 L187.90 427.07 L188.59 428.04 L188.83 428.38 L189.29 429.01 L190.00 429.98 L190.71 430.94 L190.97 431.29 L191.43 431.91 L192.15 432.88 L192.88 433.85 L193.10 434.13 L193.62 434.82 L194.37 435.79 L195.11 436.75 L195.24 436.91 L195.87 437.72 L196.63 438.69 L197.37 439.62 L197.40 439.66 L198.18 440.63 L198.96 441.59 L199.50 442.26 L199.75 442.56 L200.54 443.53 L201.35 444.50 L201.64 444.84 L202.16 445.47 L202.97 446.43 L203.77 447.37 L203.80 447.40 L204.63 448.37 L205.46 449.34 L205.90 449.84 L206.31 450.31 L207.16 451.28 L208.02 452.24 L208.04 452.26 L208.88 453.21 L209.76 454.18 L210.17 454.63 L210.64 455.15 L211.53 456.12 L212.30 456.95 L212.42 457.08 L213.33 458.05 L214.24 459.02 L214.44 459.23 L215.16 459.99 L216.08 460.96 L216.57 461.46 L217.02 461.92 L217.96 462.89 L218.70 463.65 L218.91 463.86 L219.87 464.83 L220.84 465.79 L220.84 465.80 L221.82 466.76 L222.80 467.73 L222.97 467.90 L223.79 468.70 L224.79 469.67 L225.10 469.97 L225.80 470.64 L226.82 471.61 L227.24 472.00 L227.85 472.57 L228.88 473.54 L229.37 474.00 L229.93 474.51 L230.98 475.48 L231.50 475.96 L232.04 476.45 L233.11 477.41 L233.64 477.89 L234.19 478.38 L235.28 479.35 L235.77 479.78 L236.38 480.32 L237.49 481.29 L237.90 481.65 L238.61 482.25 L239.73 483.22 L240.04 483.48 L240.87 484.19 L242.02 485.16 L242.17 485.29 L243.17 486.13 L244.30 487.07 L244.34 487.10 L245.52 488.06 L246.44 488.82 L246.70 489.03 L247.90 490.00 L248.57 490.54 L249.10 490.97 L250.32 491.94 L250.70 492.24 L251.55 492.90 L252.79 493.87 L252.84 493.91 L254.03 494.84 L254.97 495.56 L255.29 495.81 L256.56 496.78 L257.11 497.19 L257.84 497.74 L259.13 498.71 L259.24 498.79 L260.44 499.68 L261.37 500.37 L261.75 500.65 L263.07 501.62 L263.51 501.93 L264.41 502.58 L265.64 503.47 L265.76 503.55 L267.12 504.52 L267.77 504.99 L268.49 505.49 L269.87 506.46 L269.91 506.48 L271.26 507.43 L272.04 507.96 L272.67 508.39 L274.09 509.36 L274.17 509.42 L275.52 510.33 L276.31 510.86 L276.96 511.30 L278.41 512.27 L278.44 512.28 L279.88 513.23 L280.57 513.69 L281.36 514.20 L282.71 515.08 L282.85 515.17 L284.35 516.14 L284.84 516.45 L285.87 517.11 L286.97 517.80 L287.40 518.07 L288.95 519.04 L289.11 519.14 L290.50 520.01 L291.24 520.47 L292.07 520.98 L293.37 521.78 L293.66 521.95 L295.25 522.92 L295.51 523.07 L296.86 523.88 L297.64 524.35 L298.49 524.85 L299.77 525.61 L300.12 525.82 L301.78 526.79 L301.91 526.86 L303.44 527.76 L304.04 528.10 L305.12 528.72 L306.17 529.32 L306.82 529.69 L308.31 530.54 L308.53 530.66 L310.25 531.63 L310.44 531.73 L311.99 532.60 L312.57 532.92 L313.74 533.56 L314.71 534.09 L315.51 534.53 L316.84 535.26 L317.29 535.50 L318.97 536.41 L319.09 536.47 L320.91 537.44 L321.11 537.54 L322.74 538.40 L323.24 538.67 L324.58 539.37 L325.38 539.79 L326.44 540.34 L327.51 540.89 L328.32 541.31 L329.64 541.99 L330.21 542.28 L331.78 543.07 L332.12 543.25 L333.91 544.15 L334.04 544.21 L335.99 545.18 L336.04 545.21 L337.94 546.15 L338.18 546.26 L339.92 547.12 L340.31 547.31 L341.91 548.09 L342.44 548.34 L343.92 549.05 L344.58 549.37 L345.94 550.02 L346.71 550.39 L347.99 550.99 L348.84 551.39 L350.05 551.96 L350.98 552.39 L352.13 552.93 L353.11 553.38 L354.22 553.89 L355.24 554.36 L356.33 554.86 L357.38 555.34 L358.47 555.83 L359.51 556.30 L360.62 556.80 L361.64 557.26 L362.78 557.77 L363.78 558.21 L364.97 558.74 L365.91 559.15 L367.18 559.70 L368.04 560.08 L369.40 560.67 L370.18 561.01 L371.64 561.64 L372.31 561.93 L373.91 562.61 L374.44 562.84 L376.19 563.58 L376.58 563.74 L378.49 564.54 L378.71 564.64 L380.81 565.51 L380.84 565.53 L382.98 566.41 L383.15 566.48 L385.11 567.29 L385.51 567.45 L387.25 568.15 L387.89 568.42 L389.38 569.02 L390.29 569.38 L391.51 569.87 L392.71 570.35 L393.65 570.72 L395.15 571.32 L395.78 571.57 L397.62 572.29 L397.91 572.40 L400.05 573.24 L400.10 573.26 L402.18 574.06 L402.61 574.22 L404.31 574.88 L405.13 575.19 L406.45 575.69 L407.68 576.16 L408.58 576.50 L410.25 577.13 L410.71 577.30 L412.84 578.10 L412.85 578.10 L414.98 578.89 L415.46 579.07 L417.11 579.68 L418.09 580.03 L419.25 580.46 L420.75 581.00 L421.38 581.23 L423.43 581.97 L423.51 582.00 L425.65 582.76 L426.14 582.94 L427.78 583.52 L428.86 583.91 L429.91 584.28 L431.61 584.87 L432.05 585.03 L434.18 585.77 L434.39 585.84 L436.31 586.51 L437.18 586.81 L438.45 587.24 L440.01 587.78 L440.58 587.97 L442.71 588.70 L442.85 588.75 L444.85 589.42 L445.72 589.71 L446.98 590.14 L448.62 590.68 L449.12 590.85 L451.25 591.56 L451.53 591.65 L453.38 592.26 L454.48 592.62 L455.52 592.96 L457.45 593.59 L457.65 593.65 L459.78 594.34 L460.44 594.55 L461.92 595.03 L463.46 595.52 L464.05 595.71 L466.18 596.39 L466.51 596.49 L468.32 597.06 L469.58 597.46 L470.45 597.73 L472.58 598.40 L472.68 598.43 L474.72 599.06 L475.80 599.40 L476.85 599.72 L478.95 600.36 L478.98 600.37 L481.12 601.02 L482.13 601.33 L483.25 601.67 L485.33 602.30 L485.38 602.31 L487.52 602.95 L488.57 603.27 L489.65 603.59 L491.78 604.22 L491.83 604.24 L493.92 604.85 L495.11 605.20 L496.05 605.48 L498.18 606.10 L498.43 606.17 L500.32 606.72 L501.77 607.14 L502.45 607.34 L504.58 607.95 L505.15 608.11 L506.72 608.56 L508.55 609.08 L508.85 609.16 L510.98 609.77 L511.98 610.04 L513.12 610.36 L515.25 610.96 L515.44 611.01 L517.39 611.55 L518.93 611.98 L519.52 612.14 L521.65 612.73 L522.45 612.95 L523.79 613.32 L525.92 613.90 L525.99 613.92 L528.05 614.47 L529.57 614.89 L530.19 615.05 L532.32 615.62 L533.18 615.85 L534.45 616.19 L536.59 616.76 L536.82 616.82 L538.72 617.32 L540.50 617.79 L540.85 617.88 L542.99 618.44 L544.20 618.76 L545.12 619.00 L547.25 619.55 L547.93 619.73 L549.39 620.10 L551.52 620.65 L551.70 620.69 L553.65 621.19 L555.50 621.66 L555.79 621.74 L557.92 622.28 L559.33 622.63 L560.05 622.81 L562.19 623.35 L563.19 623.60 L564.32 623.88 L566.45 624.41 L567.09 624.57 L568.59 624.94 L570.72 625.46 L571.02 625.53 L572.85 625.98 L574.98 626.50 L574.99 626.50 L577.12 627.02 L578.98 627.47 L579.26 627.54 L581.39 628.05 L583.01 628.44 L583.52 628.56 L585.66 629.07 L587.08 629.41 L587.79 629.58 L589.92 630.08 L591.18 630.37 L592.06 630.58 L594.19 631.08 L595.31 631.34 L596.32 631.58 L598.46 632.07 L599.48 632.31 L600.59 632.57 L602.72 633.06 L603.69 633.28 L604.86 633.55 L606.99 634.03 L607.93 634.25 L609.12 634.52 L611.26 635.00 L612.21 635.22 L613.39 635.48 L615.52 635.96 L616.52 636.18 L617.66 636.44 L619.79 636.91 L620.87 637.15 L621.92 637.38 L624.06 637.85 L625.26 638.12 L626.19 638.32 L628.32 638.79 L629.69 639.09 L630.46 639.26 L632.59 639.72 L634.15 640.06 L634.72 640.18 L636.86 640.64 L638.66 641.02 L638.99 641.10 L641.13 641.55 L643.20 641.99 L643.26 642.01 L645.39 642.46 L647.53 642.91 L647.77 642.96 L649.66 643.36 L651.79 643.80 L652.39 643.93 L653.93 644.25 L656.06 644.69 L657.05 644.90 L658.19 645.13 L660.33 645.57 L661.75 645.86 L662.46 646.01 L664.59 646.45 L666.49 646.83 L666.73 646.88 L668.86 647.31 L670.99 647.75 L671.26 647.80 L673.13 648.18 L675.26 648.60 L676.08 648.77 L677.39 649.03 L679.53 649.46 L680.94 649.74 L681.66 649.88 L683.79 650.30 L685.84 650.71 L685.93 650.72 L688.06 651.14 L690.19 651.56 L690.79 651.67 L692.33 651.97 L694.46 652.39 L695.77 652.64 L696.59 652.80 L698.73 653.21 L700.80 653.61 L700.86 653.62 L702.99 654.03 L705.13 654.44 L705.87 654.58 L707.26 654.84 L709.40 655.25 L710.98 655.55 L711.53 655.65 L713.66 656.05 L715.80 656.45 L716.14 656.51 L717.93 656.85 L720.06 657.24 L721.34 657.48 L722.20 657.64 L724.33 658.03 L726.46 658.43 L726.59 658.45 L728.60 658.82 L730.73 659.21 L731.88 659.42 L732.86 659.60 L735.00 659.98 L737.13 660.37 L737.21 660.39 L739.26 660.76 L741.40 661.14 L742.60 661.35 L743.53 661.52 L745.66 661.90 L747.80 662.28 L748.02 662.32 L749.93 662.66 L752.06 663.04 L753.50 663.29 L754.20 663.41 L756.33 663.79 L758.46 664.16 L759.02 664.26 L760.60 664.53 L762.73 664.91 L764.58 665.23 L764.86 665.28 L767.00 665.64 L769.13 666.01 L770.20 666.19 L771.27 666.38 L773.40 666.74 L775.53 667.11 L775.86 667.16 L777.67 667.47 L779.80 667.83 L781.57 668.13 L781.93 668.19 L784.07 668.55 L786.20 668.91 L787.33 669.10 L788.33 669.27 L790.47 669.62 L792.60 669.98 L793.14 670.07 L794.73 670.33 L796.87 670.68 L799.00 671.04" fill="none" stroke="#00B050" stroke-width="1" shape-rendering="crispEdges"/>
<path d="M154.50 370.19 L155.00 371.45 L155.51 372.71 L156.02 373.97 L156.54 375.22 L157.07 376.48 L157.60 377.74 L157.96 378.60 L158.13 379.00 L158.67 380.26 L159.22 381.51 L159.77 382.77 L160.33 384.03 L160.90 385.29 L161.43 386.46 L161.47 386.54 L162.04 387.80 L162.62 389.06 L163.21 390.32 L163.81 391.57 L164.41 392.83 L164.89 393.83 L165.01 394.09 L165.63 395.35 L166.25 396.61 L166.87 397.86 L167.50 399.12 L168.14 400.38 L168.35 400.79 L168.79 401.64 L169.44 402.89 L170.10 404.15 L170.77 405.41 L171.44 406.67 L171.82 407.36 L172.12 407.92 L172.81 409.18 L173.50 410.44 L174.21 411.70 L174.92 412.96 L175.28 413.59 L175.63 414.21 L176.36 415.47 L177.09 416.73 L177.83 417.99 L178.58 419.24 L178.74 419.52 L179.33 420.50 L180.10 421.76 L180.87 423.02 L181.65 424.27 L182.21 425.17 L182.43 425.53 L183.23 426.79 L184.03 428.05 L184.85 429.31 L185.67 430.56 L185.67 430.57 L186.50 431.82 L187.33 433.08 L188.18 434.34 L189.04 435.59 L189.13 435.73 L189.90 436.85 L190.78 438.11 L191.66 439.37 L192.55 440.62 L192.60 440.69 L193.45 441.88 L194.36 443.14 L195.28 444.40 L196.06 445.45 L196.21 445.66 L197.15 446.91 L198.10 448.17 L199.06 449.43 L199.52 450.02 L200.03 450.69 L201.01 451.94 L202.01 453.20 L202.98 454.43 L203.01 454.46 L204.02 455.72 L205.04 456.98 L206.07 458.23 L206.45 458.69 L207.11 459.49 L208.17 460.75 L209.23 462.01 L209.91 462.80 L210.31 463.26 L211.40 464.52 L212.50 465.78 L213.37 466.77 L213.61 467.04 L214.73 468.29 L215.86 469.55 L216.84 470.62 L217.01 470.81 L218.17 472.07 L219.34 473.33 L220.30 474.35 L220.52 474.58 L221.72 475.84 L222.92 477.10 L223.76 477.97 L224.14 478.36 L225.38 479.61 L226.62 480.87 L227.23 481.48 L227.88 482.13 L229.15 483.39 L230.44 484.64 L230.69 484.89 L231.74 485.90 L233.05 487.16 L234.15 488.21 L234.37 488.42 L235.71 489.68 L237.07 490.93 L237.62 491.44 L238.44 492.19 L239.82 493.45 L241.08 494.58 L241.22 494.71 L242.63 495.96 L244.05 497.22 L244.54 497.65 L245.50 498.48 L246.95 499.74 L248.01 500.64 L248.42 500.99 L249.91 502.25 L251.41 503.51 L251.47 503.56 L252.93 504.77 L254.47 506.03 L254.93 506.41 L256.02 507.28 L257.58 508.54 L258.40 509.19 L259.17 509.80 L260.77 511.06 L261.86 511.91 L262.38 512.31 L264.02 513.57 L265.32 514.57 L265.67 514.83 L267.33 516.09 L268.79 517.17 L269.02 517.34 L270.72 518.60 L272.25 519.72 L272.44 519.86 L274.18 521.12 L275.71 522.21 L275.94 522.38 L277.71 523.63 L279.18 524.66 L279.51 524.89 L281.32 526.15 L282.64 527.05 L283.15 527.41 L285.00 528.66 L286.10 529.40 L286.88 529.92 L288.77 531.18 L289.57 531.71 L290.67 532.44 L292.60 533.69 L293.03 533.97 L294.55 534.95 L296.49 536.19 L296.53 536.21 L298.52 537.47 L299.95 538.37 L300.53 538.73 L302.56 539.98 L303.42 540.51 L304.62 541.24 L306.69 542.50 L306.88 542.61 L308.79 543.76 L310.34 544.68 L310.91 545.01 L313.05 546.27 L313.81 546.71 L315.22 547.53 L317.27 548.71 L317.40 548.79 L319.61 550.04 L320.73 550.68 L321.85 551.30 L324.10 552.56 L324.20 552.61 L326.38 553.82 L327.66 554.52 L328.69 555.08 L331.01 556.33 L331.12 556.39 L333.37 557.59 L334.59 558.24 L335.74 558.85 L338.05 560.06 L338.15 560.11 L340.57 561.36 L341.51 561.85 L343.03 562.62 L344.98 563.61 L345.50 563.88 L348.01 565.14 L348.44 565.35 L350.54 566.39 L351.90 567.07 L353.10 567.65 L355.37 568.76 L355.68 568.91 L358.29 570.17 L358.83 570.43 L360.93 571.43 L362.29 572.07 L363.60 572.68 L365.76 573.69 L366.29 573.94 L369.01 575.20 L369.22 575.29 L371.76 576.46 L372.68 576.87 L374.54 577.71 L376.15 578.43 L377.35 578.97 L379.61 579.97 L380.19 580.23 L383.06 581.49 L383.07 581.49 L385.96 582.74 L386.54 582.99 L388.88 584.00 L390.00 584.48 L391.84 585.26 L393.46 585.94 L394.83 586.52 L396.92 587.39 L397.85 587.78 L400.39 588.82 L400.91 589.03 L403.85 590.23 L403.99 590.29 L407.11 591.55 L407.31 591.63 L410.26 592.81 L410.78 593.01 L413.44 594.06 L414.24 594.38 L416.66 595.32 L417.70 595.73 L419.91 596.58 L421.17 597.06 L423.19 597.84 L424.63 598.38 L426.51 599.09 L428.09 599.69 L429.86 600.35 L431.56 600.98 L433.25 601.61 L435.02 602.26 L436.68 602.87 L438.48 603.53 L440.14 604.13 L441.95 604.78 L443.63 605.38 L445.41 606.02 L447.16 606.64 L448.87 607.24 L450.73 607.90 L452.34 608.46 L454.34 609.16 L455.80 609.66 L457.99 610.41 L459.26 610.85 L461.67 611.67 L462.73 612.03 L465.39 612.93 L466.19 613.20 L469.15 614.19 L469.65 614.35 L472.95 615.45 L473.12 615.50 L476.58 616.63 L476.79 616.70 L480.04 617.76 L480.67 617.96 L483.51 618.87 L484.59 619.22 L486.97 619.97 L488.55 620.48 L490.43 621.07 L492.56 621.73 L493.89 622.15 L496.60 622.99 L497.36 623.22 L500.69 624.25 L500.82 624.29 L504.28 625.34 L504.82 625.51 L507.75 626.39 L508.99 626.76 L511.21 627.43 L513.21 628.02 L514.67 628.46 L517.47 629.28 L518.14 629.47 L521.60 630.49 L521.78 630.54 L525.06 631.49 L526.13 631.80 L528.53 632.48 L530.53 633.05 L531.99 633.47 L534.97 634.31 L535.45 634.45 L538.92 635.42 L539.46 635.57 L542.38 636.38 L544.00 636.83 L545.84 637.33 L548.58 638.08 L549.31 638.28 L552.77 639.22 L553.21 639.34 L556.23 640.15 L557.90 640.60 L559.70 641.08 L562.62 641.86 L563.16 642.00 L566.62 642.91 L567.40 643.11 L570.09 643.81 L572.23 644.37 L573.55 644.71 L577.01 645.60 L577.11 645.63 L580.47 646.49 L582.05 646.89 L583.94 647.37 L587.03 648.15 L587.40 648.24 L590.86 649.10 L592.06 649.40 L594.33 649.96 L597.15 650.66 L597.79 650.82 L601.25 651.67 L602.29 651.92 L604.72 652.51 L607.49 653.18 L608.18 653.34 L611.64 654.17 L612.74 654.43 L615.11 655.00 L618.04 655.69 L618.57 655.82 L622.03 656.63 L623.40 656.95 L625.50 657.44 L628.82 658.21 L628.96 658.24 L632.42 659.04 L634.29 659.46 L635.89 659.83 L639.35 660.62 L639.82 660.72 L642.81 661.40 L645.41 661.98 L646.28 662.17 L649.74 662.95 L651.06 663.24 L653.20 663.71 L656.67 664.47 L656.76 664.50 L660.13 665.23 L662.53 665.75 L663.59 665.98 L667.06 666.73 L668.36 667.01 L670.52 667.47 L673.98 668.21 L674.24 668.27 L677.44 668.95 L680.19 669.53 L680.91 669.68 L684.37 670.40 L686.20 670.78 L687.83 671.12 L691.30 671.84 L692.28 672.04 L694.76 672.55 L698.22 673.26 L698.42 673.30 L701.69 673.96 L704.62 674.56 L705.15 674.66 L708.61 675.36 L710.89 675.81 L712.08 676.05 L715.54 676.74 L717.22 677.07 L719.00 677.42 L722.47 678.10 L723.62 678.33 L725.93 678.78 L729.39 679.45 L730.08 679.59 L732.86 680.12 L736.32 680.79 L736.62 680.85 L739.78 681.45 L743.22 682.10 L743.25 682.11 L746.71 682.76 L749.89 683.36 L750.17 683.41 L753.64 684.06 L756.63 684.62 L757.10 684.70 L760.56 685.35 L763.45 685.88 L764.03 685.98 L767.49 686.62 L770.33 687.13 L770.95 687.25 L774.41 687.87 L777.29 688.39 L777.88 688.50 L781.34 689.12 L784.32 689.65 L784.80 689.74 L788.27 690.35 L791.42 690.91 L791.73 690.96 L795.19 691.57 L798.60 692.16 L798.66 692.18 L802.12 692.78 L805.58 693.38 L805.85 693.42 L809.05 693.97 L812.51 694.57 L813.18 694.68 L815.97 695.16 L819.44 695.74 L820.58 695.94 L822.90 696.33 L826.36 696.91 L828.06 697.20 L829.83 697.49 L833.29 698.07 L835.62 698.45 L836.75 698.64 L840.22 699.21 L843.26 699.71 L843.68 699.78 L847.14 700.34 L850.61 700.91 L850.98 700.97 L854.07 701.47 L857.53 702.03 L858.78 702.23 L860.99 702.58 L864.46 703.13 L866.67 703.48 L867.92 703.68 L871.38 704.23 L874.63 704.74 L874.85 704.78 L878.31 705.32 L881.77 705.86 L882.68 706.00 L885.24 706.40 L888.70 706.93 L890.81 707.26 L892.16 707.46 L895.63 708.00 L899.03 708.51 L899.09 708.52 L902.55 709.05 L906.02 709.57 L907.34 709.77 L909.48 710.09 L912.94 710.61 L915.73 711.03 L916.41 711.13 L919.87 711.65 L923.33 712.16 L924.21 712.29 L926.80 712.67 L930.26 713.18 L932.78 713.55 L933.72 713.68 L937.19 714.19 L940.65 714.69 L941.44 714.80 L944.11 715.19 L947.58 715.69 L950.18 716.06 L951.04 716.18 L954.50 716.68 L957.96 717.17 L959.02 717.32 L961.43 717.66 L964.89 718.15 L967.96 718.58 L968.35 718.63 L971.82 719.12 L975.28 719.60 L976.98 719.83 L978.74 720.08 L982.21 720.56 L985.67 721.03 L986.11 721.09 L989.13 721.51 L992.60 721.98 L995.32 722.35 L996.06 722.45 L999.52 722.92 L1002.99 723.39 L1004.64 723.61 L1006.45 723.85 L1009.91 724.31 L1013.38 724.78 L1014.05 724.86 L1016.84 725.24 L1020.30 725.69 L1023.56 726.12 L1023.77 726.15 L1027.23 726.60 L1030.69 727.06 L1033.17 727.38 L1034.16 727.51 L1037.62 727.96 L1041.08 728.41 L1042.88 728.64 L1044.55 728.85 L1048.01 729.30 L1051.47 729.74 L1052.69 729.90 L1054.93 730.18 L1058.40 730.62 L1061.86 731.06 L1062.60 731.15 L1065.32 731.50 L1068.79 731.93 L1072.25 732.36 L1072.62 732.41 L1075.71 732.80 L1079.18 733.23 L1082.64 733.66 L1082.74 733.67 L1086.10 734.08 L1089.57 734.51 L1092.97 734.93 L1093.03 734.93 L1096.49 735.36 L1099.96 735.78 L1103.31 736.18 L1103.42 736.20 L1106.88 736.62 L1110.35 737.03 L1113.76 737.44 L1113.81 737.45 L1117.27 737.86 L1120.74 738.28 L1124.20 738.69 L1124.31 738.70 L1127.66 739.10 L1131.13 739.50 L1134.59 739.91 L1134.97 739.96 L1138.05 740.32 L1141.52 740.72 L1144.98 741.13 L1145.75 741.21 L1148.44 741.53 L1151.90 741.93 L1155.37 742.33 L1156.64 742.47 L1158.83 742.72 L1162.29 743.12 L1165.76 743.52 L1167.65 743.73 L1169.22 743.91 L1172.68 744.30 L1176.15 744.69 L1178.76 744.99 L1179.61 745.08 L1183.07 745.47 L1186.54 745.86 L1190.00 746.25" fill="none" stroke="#7030A0" stroke-width="1" shape-rendering="crispEdges"/>
<path d="M233.90 83.26 L234.73 86.58 L235.57 89.90 L236.41 93.23 L236.46 93.40 L237.26 96.55 L238.11 99.87 L238.97 103.19 L239.01 103.35 L239.84 106.52 L240.71 109.84 L241.57 113.10 L241.59 113.16 L242.47 116.48 L243.35 119.80 L244.13 122.67 L244.25 123.13 L245.15 126.45 L246.05 129.77 L246.68 132.07 L246.96 133.09 L247.88 136.42 L248.80 139.74 L249.24 141.30 L249.73 143.06 L250.67 146.38 L251.61 149.71 L251.80 150.36 L252.56 153.03 L253.51 156.35 L254.35 159.26 L254.47 159.67 L255.44 163.00 L256.41 166.32 L256.91 168.02 L257.39 169.64 L258.37 172.96 L259.37 176.29 L259.47 176.62 L260.36 179.61 L261.37 182.93 L262.02 185.08 L262.38 186.25 L263.40 189.58 L264.42 192.90 L264.58 193.41 L265.45 196.22 L266.49 199.54 L267.13 201.60 L267.54 202.87 L268.59 206.19 L269.64 209.51 L269.69 209.66 L270.71 212.83 L271.78 216.16 L272.25 217.59 L272.86 219.48 L273.95 222.80 L274.80 225.41 L275.04 226.12 L276.14 229.45 L277.25 232.77 L277.36 233.10 L278.36 236.09 L279.49 239.41 L279.92 240.69 L280.62 242.74 L281.75 246.06 L282.47 248.16 L282.90 249.38 L284.05 252.70 L285.03 255.52 L285.21 256.03 L286.37 259.35 L287.55 262.67 L287.59 262.78 L288.73 265.99 L289.92 269.32 L290.14 269.94 L291.12 272.64 L292.32 275.96 L292.70 276.99 L293.54 279.28 L294.76 282.61 L295.26 283.96 L295.99 285.93 L297.22 289.25 L297.81 290.82 L298.47 292.57 L299.72 295.90 L300.37 297.60 L300.99 299.22 L302.25 302.54 L302.93 304.29 L303.53 305.86 L304.82 309.19 L305.48 310.89 L306.11 312.51 L307.42 315.83 L308.04 317.41 L308.73 319.15 L310.05 322.48 L310.60 323.84 L311.38 325.80 L312.72 329.12 L313.15 330.20 L314.06 332.44 L315.42 335.77 L315.71 336.47 L316.78 339.09 L318.16 342.41 L318.27 342.68 L319.54 345.73 L320.82 348.80 L320.93 349.06 L322.33 352.38 L323.38 354.86 L323.74 355.70 L325.16 359.02 L325.93 360.84 L326.58 362.35 L328.02 365.67 L328.49 366.75 L329.47 368.99 L330.92 372.31 L331.05 372.60 L332.39 375.64 L333.60 378.38 L333.86 378.96 L335.35 382.28 L336.16 384.09 L336.84 385.60 L338.35 388.93 L338.72 389.74 L339.86 392.25 L341.27 395.33 L341.38 395.57 L342.92 398.89 L343.83 400.86 L344.46 402.22 L346.01 405.54 L346.39 406.33 L347.58 408.86 L348.94 411.74 L349.15 412.18 L350.74 415.51 L351.50 417.10 L352.33 418.83 L353.94 422.15 L354.06 422.40 L355.55 425.47 L356.61 427.64 L357.18 428.80 L358.81 432.12 L359.17 432.83 L360.46 435.44 L361.73 437.97 L362.12 438.76 L363.79 442.09 L364.28 443.06 L365.47 445.41 L366.84 448.10 L367.16 448.73 L368.86 452.05 L369.40 453.09 L370.58 455.38 L371.95 458.03 L372.30 458.70 L374.04 462.02 L374.51 462.92 L375.78 465.34 L377.07 467.77 L377.54 468.67 L379.31 471.99 L379.62 472.57 L381.09 475.31 L382.18 477.33 L382.88 478.63 L384.69 481.96 L384.73 482.04 L386.50 485.28 L387.29 486.71 L388.33 488.60 L389.85 491.34 L390.17 491.92 L392.03 495.24 L392.40 495.92 L393.89 498.57 L394.96 500.47 L395.77 501.89 L397.52 504.97 L397.65 505.21 L399.56 508.53 L400.07 509.44 L401.47 511.86 L402.63 513.86 L403.40 515.18 L405.19 518.25 L405.33 518.50 L407.29 521.82 L407.74 522.60 L409.25 525.15 L410.30 526.92 L411.23 528.47 L412.86 531.19 L413.22 531.79 L415.22 535.11 L415.41 535.44 L417.23 538.44 L417.97 539.64 L419.26 541.76 L420.53 543.82 L421.30 545.08 L423.08 547.96 L423.36 548.40 L425.43 551.73 L425.64 552.06 L427.51 555.05 L428.20 556.14 L429.61 558.37 L430.75 560.18 L431.72 561.69 L433.31 564.19 L433.84 565.02 L435.87 568.17 L435.98 568.34 L438.13 571.66 L438.42 572.11 L440.29 574.98 L440.98 576.03 L442.47 578.31 L443.53 579.92 L444.67 581.63 L446.09 583.77 L446.88 584.95 L448.65 587.60 L449.10 588.27 L451.20 591.40 L451.33 591.60 L453.59 594.92 L453.76 595.18 L455.85 598.24 L456.32 598.92 L458.13 601.56 L458.87 602.64 L460.43 604.89 L461.43 606.33 L462.74 608.21 L463.99 609.99 L465.07 611.53 L466.54 613.63 L467.41 614.85 L469.10 617.24 L469.76 618.18 L471.66 620.83 L472.14 621.50 L474.21 624.39 L474.52 624.82 L476.77 627.93 L476.93 628.14 L479.33 631.44 L479.34 631.47 L481.78 634.79 L481.88 634.93 L484.23 638.11 L484.44 638.39 L486.70 641.43 L487.00 641.84 L489.18 644.76 L489.55 645.26 L491.68 648.08 L492.11 648.65 L494.19 651.40 L494.67 652.02 L496.72 654.72 L497.22 655.38 L499.27 658.05 L499.78 658.71 L501.84 661.37 L502.33 662.01 L504.42 664.69 L504.89 665.30 L507.01 668.01 L507.45 668.57 L509.63 671.34 L510.00 671.81 L512.26 674.66 L512.56 675.03 L514.91 677.98 L515.12 678.24 L517.58 681.30 L517.67 681.42 L520.23 684.59 L520.26 684.63 L522.79 687.73 L522.96 687.95 L525.34 690.86 L525.68 691.27 L527.90 693.96 L528.42 694.59 L530.46 697.05 L531.17 697.92 L533.01 700.12 L533.95 701.24 L535.57 703.17 L536.74 704.56 L538.13 706.21 L539.55 707.88 L540.68 709.22 L542.37 711.21 L543.24 712.22 L545.22 714.53 L545.80 715.20 L548.09 717.85 L548.35 718.16 L550.91 721.10 L550.97 721.17 L553.47 724.03 L553.87 724.50 L556.02 726.94 L556.79 727.82 L558.58 729.84 L559.73 731.14 L561.13 732.72 L562.69 734.46 L563.69 735.58 L565.67 737.79 L566.25 738.43 L568.67 741.11 L568.80 741.26 L571.36 744.07 L571.69 744.43 L573.92 746.87 L574.72 747.75 L576.47 749.66 L577.78 751.08 L579.03 752.43 L580.86 754.40 L581.59 755.18 L583.95 757.72 L584.14 757.92 L586.70 760.65 L587.07 761.04 L589.26 763.36 L590.21 764.37 L591.81 766.06 L593.37 767.69 L594.37 768.74 L596.55 771.01 L596.93 771.41 L599.48 774.06 L599.75 774.33 L602.04 776.70 L602.97 777.66 L604.60 779.33 L606.21 780.98 L607.15 781.94 L609.47 784.30 L609.71 784.54 L612.27 787.13 L612.76 787.62 L614.82 789.70 L616.06 790.95 L617.38 792.26 L619.39 794.27 L619.93 794.81 L622.49 797.35 L622.74 797.59 L625.05 799.87 L626.11 800.91 L627.60 802.38 L629.50 804.24 L630.16 804.88 L632.72 807.37 L632.91 807.56 L635.27 809.84 L636.35 810.88 L637.83 812.30 L639.81 814.20 L640.39 814.75 L642.94 817.19 L643.29 817.53 L645.50 819.62 L646.80 820.85 L648.06 822.04 L650.33 824.17 L650.61 824.44 L653.17 826.83 L653.88 827.49 L655.73 829.21 L657.45 830.82 L658.28 831.59 L660.84 833.95 L661.05 834.14 L663.40 836.29 L664.67 837.46 L665.95 838.63 L668.31 840.78 L668.51 840.96 L671.07 843.28 L671.98 844.11 L673.62 845.58 L675.67 847.43 L676.18 847.88 L678.73 850.17 L679.39 850.75 L681.29 852.44 L683.13 854.07 L683.85 854.71 L686.40 856.96 L686.90 857.40 L688.96 859.21 L690.69 860.72 L691.52 861.44 L694.07 863.67 L694.50 864.04 L696.63 865.89 L698.34 867.36 L699.19 868.09 L701.74 870.29 L702.20 870.68 L704.30 872.48 L706.09 874.01 L706.86 874.66 L709.41 876.83 L710.01 877.33 L711.97 878.99 L713.95 880.65 L714.53 881.14 L717.08 883.28 L717.91 883.97 L719.64 885.41 L721.91 887.30 L722.20 887.54 L724.75 889.65 L725.92 890.62 L727.31 891.76 L729.87 893.86 L729.97 893.94 L732.42 895.95 L734.04 897.26 L734.98 898.03 L737.53 900.10 L738.14 900.59 L740.09 902.16 L742.26 903.91 L742.65 904.22 L745.20 906.27 L746.41 907.23 L747.76 908.31 L750.32 910.34 L750.59 910.55 L752.87 912.36 L754.80 913.88 L755.43 914.38 L757.99 916.38 L759.03 917.20 L760.54 918.38 L763.10 920.38 L763.29 920.52 L765.66 922.36 L767.58 923.84 L768.21 924.34 L770.77 926.30 L771.89 927.17 L773.33 928.26 L775.88 930.22 L776.24 930.49 L778.44 932.16 L780.61 933.81 L781.00 934.10 L783.55 936.03 L785.01 937.13 L786.11 937.96 L788.67 939.88 L789.44 940.46 L791.22 941.78 L793.78 943.69 L793.90 943.78 L796.33 945.58 L798.39 947.10 L798.89 947.47 L801.45 949.35 L802.91 950.42 L804.00 951.23 L806.56 953.10 L807.45 953.75 L809.12 954.96 L811.67 956.81 L812.03 957.07 L814.23 958.66 L816.64 960.39 L816.79 960.50 L819.34 962.33 L821.28 963.71 L821.90 964.16 L824.46 965.98 L825.94 967.04 L827.01 967.80 L829.57 969.60 L830.64 970.36 L832.13 971.41 L834.68 973.20 L835.37 973.68 L837.24 974.99 L839.80 976.77 L840.13 977.00 L842.35 978.55 L844.91 980.32 L844.92 980.33 L847.47 982.09 L849.74 983.65 L850.02 983.84 L852.58 985.60 L854.59 986.97 L855.13 987.34 L857.69 989.08 L859.48 990.29 L860.25 990.82 L862.80 992.55 L864.39 993.62 L865.36 994.27 L867.92 995.99 L869.34 996.94 L870.47 997.70 L873.03 999.40 L874.32 1000.26 L875.59 1001.10 L878.14 1002.80 L879.33 1003.58 L880.70 1004.49 L883.26 1006.17 L884.38 1006.91 L885.81 1007.85 L888.37 1009.52 L889.46 1010.23 L890.93 1011.18 L893.48 1012.85 L894.57 1013.55 L896.04 1014.50 L898.60 1016.15 L899.72 1016.87 L901.15 1017.80 L903.71 1019.44 L904.90 1020.20 L906.27 1021.07 L908.82 1022.70 L910.11 1023.52 L911.38 1024.32 L913.93 1025.94 L915.36 1026.84 L916.49 1027.56 L919.05 1029.17 L920.64 1030.16 L921.60 1030.77 L924.16 1032.37 L925.95 1033.49 L926.72 1033.96 L929.27 1035.55 L931.30 1036.81 L931.83 1037.13 L934.39 1038.71 L936.69 1040.13 L936.94 1040.29 L939.50 1041.86 L942.06 1043.42 L942.11 1043.45 L944.61 1044.98 L947.17 1046.54 L947.57 1046.78 L949.73 1048.09 L952.28 1049.63 L953.06 1050.10 L954.84 1051.17 L957.40 1052.71 L958.58 1053.42 L959.95 1054.24 L962.51 1055.77 L964.15 1056.74 L965.07 1057.29 L967.62 1058.81 L969.75 1060.07 L970.18 1060.32 L972.73 1061.83 L975.29 1063.33 L975.38 1063.39 L977.85 1064.83 L980.40 1066.33 L981.06 1066.71 L982.96 1067.82 L985.52 1069.31 L986.77 1070.03 L988.07 1070.79 L990.63 1072.27 L992.51 1073.36 L993.19 1073.74 L995.74 1075.21 L998.30 1076.68" fill="none" stroke="#8496B6" stroke-width="1" shape-rendering="crispEdges"/>
<path d="M131.98 89.56 L132.30 90.92 L132.63 92.29 L132.96 93.65 L133.30 95.01 L133.64 96.38 L133.99 97.74 L134.34 99.10 L134.69 100.47 L135.05 101.83 L135.41 103.20 L135.62 103.98 L135.78 104.56 L136.15 105.92 L136.53 107.29 L136.91 108.65 L137.30 110.01 L137.69 111.38 L138.09 112.74 L138.49 114.10 L138.89 115.47 L139.27 116.70 L139.31 116.83 L139.72 118.20 L140.15 119.56 L140.57 120.92 L141.01 122.29 L141.45 123.65 L141.89 125.01 L142.34 126.38 L142.80 127.74 L142.91 128.07 L143.26 129.10 L143.73 130.47 L144.20 131.83 L144.68 133.19 L145.16 134.56 L145.66 135.92 L146.15 137.29 L146.55 138.36 L146.66 138.65 L147.17 140.01 L147.69 141.38 L148.21 142.74 L148.74 144.10 L149.28 145.47 L149.82 146.83 L150.19 147.75 L150.37 148.19 L150.93 149.56 L151.49 150.92 L152.07 152.29 L152.65 153.65 L153.23 155.01 L153.83 156.38 L153.84 156.39 L154.43 157.74 L155.04 159.10 L155.66 160.47 L156.28 161.83 L156.91 163.19 L157.48 164.39 L157.56 164.56 L158.20 165.92 L158.86 167.28 L159.53 168.65 L160.20 170.01 L160.89 171.38 L161.12 171.84 L161.58 172.74 L162.28 174.10 L162.99 175.47 L163.70 176.83 L164.43 178.19 L164.76 178.81 L165.17 179.56 L165.92 180.92 L166.67 182.28 L167.44 183.65 L168.21 185.01 L168.41 185.35 L169.00 186.37 L169.79 187.74 L170.60 189.10 L171.41 190.47 L172.05 191.52 L172.24 191.83 L173.07 193.19 L173.92 194.56 L174.78 195.92 L175.64 197.28 L175.69 197.36 L176.52 198.65 L177.41 200.01 L178.32 201.37 L179.23 202.74 L179.33 202.89 L180.15 204.10 L181.09 205.47 L182.04 206.83 L182.98 208.16 L183.00 208.19 L183.97 209.56 L184.96 210.92 L185.96 212.28 L186.62 213.18 L186.97 213.65 L187.99 215.01 L189.03 216.37 L190.07 217.74 L190.26 217.98 L191.14 219.10 L192.21 220.46 L193.30 221.83 L193.90 222.57 L194.41 223.19 L195.53 224.56 L196.66 225.92 L197.55 226.98 L197.80 227.28 L198.97 228.65 L200.14 230.01 L201.19 231.21 L201.33 231.37 L202.54 232.74 L203.76 234.10 L204.83 235.28 L205.00 235.46 L206.25 236.83 L207.52 238.19 L208.47 239.21 L208.80 239.56 L210.10 240.92 L211.42 242.28 L212.12 243.00 L212.75 243.65 L214.11 245.01 L215.47 246.37 L215.76 246.65 L216.86 247.74 L218.26 249.10 L219.40 250.19 L219.68 250.46 L221.12 251.83 L222.58 253.19 L223.04 253.62 L224.06 254.55 L225.55 255.92 L226.69 256.94 L227.07 257.28 L228.60 258.65 L230.15 260.01 L230.33 260.16 L231.72 261.37 L233.32 262.74 L233.97 263.29 L234.93 264.10 L236.56 265.46 L237.61 266.33 L238.22 266.83 L239.89 268.19 L241.26 269.29 L241.59 269.55 L243.31 270.92 L244.90 272.17 L245.05 272.28 L246.81 273.64 L248.54 274.97 L248.59 275.01 L250.40 276.37 L252.18 277.70 L252.23 277.74 L254.08 279.10 L255.83 280.37 L255.96 280.46 L257.86 281.83 L259.47 282.97 L259.78 283.19 L261.73 284.55 L263.11 285.51 L263.71 285.92 L265.71 287.28 L266.75 287.99 L267.73 288.64 L269.78 290.01 L270.40 290.41 L271.86 291.37 L273.96 292.74 L274.04 292.79 L276.09 294.10 L277.68 295.11 L278.25 295.46 L280.43 296.83 L281.32 297.38 L282.64 298.19 L284.88 299.55 L284.97 299.60 L287.15 300.92 L288.61 301.78 L289.45 302.28 L291.78 303.64 L292.25 303.92 L294.13 305.01 L295.89 306.02 L296.52 306.37 L298.93 307.73 L299.54 308.07 L301.38 309.10 L303.18 310.09 L303.86 310.46 L306.37 311.83 L306.82 312.07 L308.91 313.19 L310.46 314.01 L311.49 314.55 L314.09 315.92 L314.11 315.92 L316.73 317.28 L317.75 317.80 L319.41 318.64 L321.39 319.65 L322.11 320.01 L324.86 321.37 L325.03 321.46 L327.63 322.73 L328.68 323.24 L330.44 324.10 L332.32 325.00 L333.29 325.46 L335.96 326.72 L336.18 326.83 L339.10 328.19 L339.60 328.42 L342.05 329.55 L343.25 330.10 L345.05 330.92 L346.89 331.74 L348.08 332.28 L350.53 333.37 L351.16 333.64 L354.18 334.97 L354.27 335.01 L357.42 336.37 L357.82 336.54 L360.61 337.73 L361.46 338.09 L363.84 339.10 L365.10 339.63 L367.11 340.46 L368.75 341.13 L370.43 341.82 L372.39 342.62 L373.78 343.19 L376.03 344.09 L377.18 344.55 L379.67 345.54 L380.62 345.92 L383.32 346.97 L384.11 347.28 L386.96 348.38 L387.64 348.64 L390.60 349.77 L391.22 350.01 L394.24 351.15 L394.84 351.37 L397.89 352.50 L398.50 352.73 L401.53 353.85 L402.22 354.10 L405.17 355.17 L405.98 355.46 L408.81 356.48 L409.79 356.82 L412.46 357.77 L413.64 358.19 L416.10 359.05 L417.55 359.55 L419.74 360.31 L421.50 360.91 L423.38 361.56 L425.51 362.28 L427.03 362.79 L429.57 363.64 L430.67 364.01 L433.68 365.01 L434.31 365.22 L437.84 366.37 L437.95 366.41 L441.60 367.59 L442.05 367.73 L445.24 368.75 L446.32 369.10 L448.88 369.91 L450.64 370.46 L452.52 371.05 L455.01 371.82 L456.17 372.18 L459.45 373.19 L459.81 373.30 L463.45 374.40 L463.93 374.55 L467.09 375.50 L468.48 375.91 L470.74 376.58 L473.08 377.28 L474.38 377.66 L477.75 378.64 L478.02 378.72 L481.66 379.77 L482.47 380.01 L485.31 380.82 L487.25 381.37 L488.95 381.85 L492.09 382.73 L492.59 382.87 L496.23 383.89 L496.99 384.10 L499.88 384.89 L501.96 385.46 L503.52 385.88 L506.99 386.82 L507.16 386.87 L510.80 387.85 L512.08 388.19 L514.45 388.81 L517.24 389.55 L518.09 389.77 L521.73 390.72 L522.46 390.91 L525.37 391.67 L527.75 392.28 L529.02 392.60 L532.66 393.53 L533.11 393.64 L536.30 394.45 L538.53 395.00 L539.94 395.36 L543.59 396.26 L544.03 396.37 L547.23 397.16 L549.59 397.73 L550.87 398.04 L554.51 398.92 L555.23 399.10 L558.16 399.80 L560.93 400.46 L561.80 400.66 L565.44 401.52 L566.71 401.82 L569.09 402.38 L572.56 403.19 L572.73 403.22 L576.37 404.06 L578.49 404.55 L580.01 404.90 L583.66 405.72 L584.49 405.91 L587.30 406.54 L590.57 407.28 L590.94 407.36 L594.58 408.17 L596.73 408.64 L598.23 408.97 L601.87 409.77 L602.96 410.00 L605.51 410.56 L609.15 411.34 L609.27 411.37 L612.80 412.12 L615.67 412.73 L616.44 412.89 L620.08 413.66 L622.14 414.10 L623.72 414.43 L627.37 415.18 L628.70 415.46 L631.01 415.93 L634.65 416.68 L635.34 416.82 L638.29 417.42 L641.94 418.16 L642.07 418.19 L645.58 418.89 L648.88 419.55 L649.22 419.62 L652.86 420.34 L655.77 420.91 L656.51 421.06 L660.15 421.77 L662.76 422.28 L663.79 422.48 L667.43 423.18 L669.83 423.64 L671.08 423.88 L674.72 424.57 L677.00 425.00 L678.36 425.26 L682.00 425.95 L684.25 426.37 L685.65 426.63 L689.29 427.30 L691.60 427.73 L692.93 427.98 L696.57 428.64 L699.04 429.09 L700.22 429.31 L703.86 429.97 L706.58 430.46 L707.50 430.62 L711.14 431.28 L714.21 431.82 L714.79 431.92 L718.43 432.57 L721.93 433.19 L722.07 433.21 L725.71 433.85 L729.36 434.48 L729.76 434.55 L733.00 435.11 L736.64 435.73 L737.69 435.91 L740.28 436.36 L743.93 436.97 L745.71 437.28 L747.57 437.59 L751.21 438.20 L753.84 438.64 L754.85 438.81 L758.50 439.41 L762.07 440.00 L762.14 440.01 L765.78 440.61 L769.42 441.21 L770.41 441.37 L773.07 441.80 L776.71 442.39 L778.85 442.73 L780.35 442.97 L783.99 443.55 L787.40 444.09 L787.64 444.13 L791.28 444.71 L794.92 445.28 L796.06 445.46 L798.57 445.85 L802.21 446.42 L804.83 446.82 L805.85 446.98 L809.49 447.54 L813.14 448.10 L813.71 448.18 L816.78 448.65 L820.42 449.20 L822.71 449.55 L824.06 449.75 L827.71 450.30 L831.35 450.84 L831.81 450.91 L834.99 451.38 L838.63 451.92 L841.04 452.28 L842.28 452.46 L845.92 452.99 L849.56 453.52 L850.38 453.64 L853.20 454.05 L856.85 454.57 L859.84 455.00 L860.49 455.10 L864.13 455.62 L867.77 456.13 L869.42 456.37 L871.42 456.65 L875.06 457.16 L878.70 457.67 L879.12 457.73 L882.34 458.18 L885.99 458.68 L888.95 459.09 L889.63 459.19 L893.27 459.69 L896.91 460.19 L898.90 460.46 L900.56 460.68 L904.20 461.18 L907.84 461.67 L908.97 461.82 L911.48 462.16 L915.13 462.65 L918.77 463.13 L919.18 463.18 L922.41 463.61 L926.05 464.09 L929.51 464.55 L929.70 464.57 L933.34 465.05 L936.98 465.52 L939.98 465.91 L940.62 466.00 L944.27 466.47 L947.91 466.93 L950.58 467.28 L951.55 467.40 L955.19 467.86 L958.84 468.33 L961.31 468.64 L962.48 468.79 L966.12 469.24 L969.76 469.70 L972.18 470.00 L973.41 470.16 L977.05 470.61 L980.69 471.06 L983.19 471.37 L984.33 471.51 L987.98 471.95 L991.62 472.40 L994.34 472.73 L995.26 472.84 L998.90 473.28 L1002.55 473.72 L1005.63 474.09 L1006.19 474.16 L1009.83 474.60 L1013.48 475.03 L1017.06 475.46 L1017.12 475.46 L1020.76 475.89 L1024.40 476.32 L1028.05 476.75 L1028.64 476.82 L1031.69 477.18 L1035.33 477.60 L1038.97 478.02 L1040.37 478.18 L1042.62 478.44 L1046.26 478.86 L1049.90 479.28 L1052.25 479.55 L1053.54 479.70 L1057.19 480.11 L1060.83 480.52 L1064.27 480.91 L1064.47 480.93 L1068.11 481.34 L1071.76 481.75 L1075.40 482.16 L1076.45 482.27 L1079.04 482.56 L1082.68 482.97 L1086.33 483.37 L1088.79 483.64 L1089.97 483.77 L1093.61 484.17 L1097.25 484.56 L1100.90 484.96 L1101.28 485.00 L1104.54 485.35 L1108.18 485.75 L1111.82 486.14 L1113.93 486.37 L1115.47 486.53 L1119.11 486.92 L1122.75 487.31 L1126.39 487.69 L1126.74 487.73 L1130.04 488.08 L1133.68 488.46 L1137.32 488.84 L1139.72 489.09 L1140.96 489.22 L1144.61 489.60 L1148.25 489.98 L1151.89 490.36 L1152.85 490.46 L1155.53 490.73 L1159.18 491.11 L1162.82 491.48 L1166.16 491.82 L1166.46 491.85 L1170.10 492.22 L1173.75 492.59 L1177.39 492.96 L1179.64 493.18 L1181.03 493.32 L1184.67 493.69 L1188.32 494.05 L1191.96 494.42 L1193.28 494.55 L1195.60 494.78 L1199.24 495.14 L1202.89 495.50 L1206.53 495.85 L1207.10 495.91 L1210.17 496.21 L1213.81 496.57 L1217.46 496.92 L1221.10 497.27" fill="none" stroke="#000" stroke-width="1" shape-rendering="crispEdges"/>
<path d="M112.87 108.59 L112.98 109.57 L113.10 110.54 L113.22 111.52 L113.34 112.50 L113.46 113.47 L113.58 114.45 L113.71 115.43 L113.84 116.41 L113.97 117.38 L114.10 118.36 L114.24 119.34 L114.38 120.31 L114.52 121.29 L114.66 122.27 L114.81 123.24 L114.96 124.22 L115.11 125.20 L115.26 126.18 L115.42 127.15 L115.58 128.13 L115.74 129.11 L115.91 130.08 L116.08 131.06 L116.25 132.04 L116.42 133.02 L116.60 133.99 L116.78 134.97 L116.96 135.95 L117.11 136.72 L117.15 136.92 L117.34 137.90 L117.53 138.88 L117.73 139.86 L117.93 140.83 L118.14 141.81 L118.34 142.79 L118.56 143.76 L118.77 144.74 L118.99 145.72 L119.21 146.69 L119.44 147.67 L119.67 148.65 L119.91 149.63 L120.15 150.60 L120.39 151.58 L120.64 152.56 L120.89 153.53 L121.15 154.51 L121.35 155.26 L121.41 155.49 L121.68 156.47 L121.95 157.44 L122.23 158.42 L122.51 159.40 L122.79 160.37 L123.08 161.35 L123.38 162.33 L123.68 163.31 L123.99 164.28 L124.30 165.26 L124.62 166.24 L124.95 167.21 L125.28 168.19 L125.59 169.10 L125.61 169.17 L125.95 170.14 L126.30 171.12 L126.65 172.10 L127.01 173.08 L127.38 174.05 L127.75 175.03 L128.13 176.01 L128.52 176.98 L128.91 177.96 L129.32 178.94 L129.72 179.92 L129.83 180.16 L130.14 180.89 L130.56 181.87 L130.99 182.85 L131.43 183.82 L131.88 184.80 L132.33 185.78 L132.79 186.76 L133.26 187.73 L133.74 188.71 L134.07 189.37 L134.23 189.69 L134.72 190.66 L135.23 191.64 L135.74 192.62 L136.26 193.59 L136.79 194.57 L137.34 195.55 L137.89 196.53 L138.31 197.26 L138.45 197.50 L139.02 198.48 L139.60 199.46 L140.19 200.43 L140.80 201.41 L141.41 202.39 L142.03 203.37 L142.55 204.16 L142.67 204.34 L143.31 205.32 L143.97 206.30 L144.64 207.27 L145.32 208.25 L146.02 209.23 L146.73 210.21 L146.79 210.29 L147.44 211.18 L148.18 212.16 L148.92 213.14 L149.68 214.11 L150.45 215.09 L151.03 215.81 L151.24 216.07 L152.04 217.04 L152.85 218.02 L153.68 219.00 L154.52 219.98 L155.27 220.82 L155.38 220.95 L156.26 221.93 L157.15 222.91 L158.05 223.88 L158.97 224.86 L159.51 225.42 L159.91 225.84 L160.87 226.82 L161.84 227.79 L162.83 228.77 L163.74 229.66 L163.83 229.75 L164.86 230.72 L165.90 231.70 L166.96 232.68 L167.98 233.60 L168.05 233.66 L169.15 234.63 L170.27 235.61 L171.41 236.59 L172.22 237.28 L172.57 237.56 L173.75 238.54 L174.95 239.52 L176.17 240.49 L176.46 240.72 L177.42 241.47 L178.69 242.45 L179.98 243.43 L180.70 243.97 L181.29 244.40 L182.63 245.38 L183.99 246.36 L184.94 247.03 L185.37 247.33 L186.78 248.31 L188.22 249.29 L189.18 249.93 L189.68 250.27 L191.17 251.24 L192.68 252.22 L193.42 252.69 L194.22 253.20 L195.79 254.17 L197.39 255.15 L197.66 255.32 L199.01 256.13 L200.67 257.11 L201.90 257.82 L202.35 258.08 L204.06 259.06 L205.81 260.04 L206.14 260.22 L207.58 261.01 L209.39 261.99 L210.38 262.52 L211.23 262.97 L213.10 263.94 L214.62 264.72 L215.01 264.92 L216.95 265.90 L218.86 266.85 L218.92 266.88 L220.93 267.85 L222.98 268.83 L223.10 268.89 L225.06 269.81 L227.18 270.78 L227.34 270.86 L229.34 271.76 L231.53 272.74 L231.58 272.76 L233.77 273.72 L235.82 274.60 L236.04 274.69 L238.36 275.67 L240.06 276.37 L240.72 276.65 L243.12 277.62 L244.30 278.10 L245.56 278.60 L248.05 279.58 L248.54 279.77 L250.58 280.56 L252.78 281.39 L253.15 281.53 L255.77 282.51 L257.02 282.97 L258.44 283.49 L261.16 284.46 L261.25 284.50 L263.92 285.44 L265.49 285.99 L266.74 286.42 L269.60 287.39 L269.73 287.44 L272.52 288.37 L273.97 288.85 L275.49 289.35 L278.21 290.23 L278.51 290.33 L281.58 291.30 L282.45 291.58 L284.71 292.28 L286.69 292.89 L287.90 293.26 L290.93 294.17 L291.14 294.23 L294.44 295.21 L295.17 295.42 L297.80 296.19 L299.41 296.65 L301.22 297.17 L303.65 297.85 L304.71 298.14 L307.89 299.02 L308.25 299.12 L311.86 300.10 L312.13 300.17 L315.53 301.07 L316.37 301.30 L319.26 302.05 L320.61 302.40 L323.07 303.03 L324.85 303.48 L326.94 304.01 L329.09 304.54 L330.88 304.98 L333.33 305.58 L334.89 305.96 L337.57 306.60 L338.98 306.94 L341.81 307.60 L343.13 307.91 L346.05 308.59 L347.36 308.89 L350.29 309.56 L351.67 309.87 L354.53 310.51 L356.05 310.84 L358.76 311.44 L360.51 311.82 L363.00 312.36 L365.05 312.80 L367.24 313.26 L369.68 313.78 L371.48 314.15 L374.38 314.75 L375.72 315.03 L379.17 315.73 L379.96 315.89 L384.05 316.71 L384.20 316.74 L388.44 317.57 L389.01 317.68 L392.68 318.40 L394.06 318.66 L396.92 319.21 L399.20 319.64 L401.16 320.01 L404.43 320.62 L405.40 320.79 L409.64 321.57 L409.76 321.59 L413.88 322.34 L415.18 322.57 L418.12 323.09 L420.70 323.55 L422.36 323.84 L426.32 324.52 L426.60 324.57 L430.84 325.30 L432.03 325.50 L435.08 326.01 L437.85 326.48 L439.32 326.72 L443.56 327.42 L443.78 327.46 L447.80 328.11 L449.81 328.43 L452.04 328.79 L455.95 329.41 L456.27 329.46 L460.51 330.13 L462.19 330.39 L464.75 330.78 L468.55 331.36 L468.99 331.43 L473.23 332.07 L475.02 332.34 L477.47 332.71 L481.61 333.32 L481.71 333.33 L485.95 333.95 L488.32 334.29 L490.19 334.56 L494.43 335.17 L495.15 335.27 L498.67 335.77 L502.09 336.25 L502.91 336.36 L507.15 336.95 L509.17 337.23 L511.39 337.53 L515.63 338.10 L516.37 338.20 L519.87 338.67 L523.69 339.18 L524.11 339.23 L528.35 339.79 L531.15 340.16 L532.59 340.34 L536.83 340.89 L538.74 341.13 L541.07 341.43 L545.31 341.97 L546.47 342.11 L549.55 342.50 L553.78 343.02 L554.34 343.09 L558.02 343.54 L562.26 344.06 L562.34 344.07 L566.50 344.57 L570.49 345.04 L570.74 345.07 L574.98 345.57 L578.79 346.02 L579.22 346.07 L583.46 346.56 L587.23 347.00 L587.70 347.05 L591.94 347.53 L595.83 347.97 L596.18 348.01 L600.42 348.49 L604.57 348.95 L604.66 348.96 L608.90 349.43 L613.14 349.89 L613.48 349.93 L617.38 350.35 L621.62 350.81 L622.54 350.91 L625.86 351.26 L630.10 351.71 L631.77 351.88 L634.34 352.15 L638.58 352.59 L641.16 352.86 L642.82 353.03 L647.06 353.46 L650.72 353.84 L651.29 353.89 L655.53 354.32 L659.77 354.75 L660.45 354.81 L664.01 355.17 L668.25 355.58 L670.35 355.79 L672.49 356.00 L676.73 356.41 L680.43 356.77 L680.97 356.82 L685.21 357.22 L689.45 357.63 L690.69 357.74 L693.69 358.03 L697.93 358.42 L701.14 358.72 L702.17 358.82 L706.41 359.21 L710.65 359.60 L711.77 359.70 L714.89 359.98 L719.13 360.37 L722.59 360.68 L723.37 360.75 L727.61 361.12 L731.85 361.50 L733.60 361.65 L736.09 361.87 L740.33 362.24 L744.57 362.61 L744.82 362.63 L748.80 362.97 L753.04 363.34 L756.23 363.61 L757.28 363.70 L761.52 364.05 L765.76 364.41 L767.84 364.58 L770.00 364.76 L774.24 365.12 L778.48 365.46 L779.67 365.56 L782.72 365.81 L786.96 366.16 L791.20 366.50 L791.70 366.54 L795.44 366.84 L799.68 367.18 L803.92 367.51 L803.95 367.52 L808.16 367.85 L812.40 368.18 L816.42 368.49 L816.64 368.51 L820.88 368.84 L825.12 369.16 L829.11 369.47 L829.36 369.49 L833.60 369.81 L837.84 370.13 L842.03 370.45 L842.08 370.45 L846.31 370.77 L850.55 371.08 L854.79 371.40 L855.18 371.42 L859.03 371.71 L863.27 372.02 L867.51 372.32 L868.57 372.40 L871.75 372.63 L875.99 372.94 L880.23 373.24 L882.19 373.38 L884.47 373.54 L888.71 373.84 L892.95 374.14 L896.06 374.36 L897.19 374.43 L901.43 374.73 L905.67 375.02 L909.91 375.31 L910.17 375.33 L914.15 375.60 L918.39 375.89 L922.63 376.18 L924.54 376.31 L926.87 376.47 L931.11 376.75 L935.35 377.03 L939.17 377.29 L939.59 377.31 L943.82 377.59 L948.06 377.87 L952.30 378.15 L954.05 378.26 L956.54 378.43 L960.78 378.70 L965.02 378.97 L969.21 379.24 L969.26 379.24 L973.50 379.51 L977.74 379.78 L981.98 380.05 L984.63 380.22 L986.22 380.32 L990.46 380.58 L994.70 380.85 L998.94 381.11 L1000.33 381.19 L1003.18 381.37 L1007.42 381.63 L1011.66 381.89 L1015.90 382.15 L1016.31 382.17 L1020.14 382.40 L1024.38 382.66 L1028.62 382.91 L1032.57 383.15 L1032.86 383.17 L1037.10 383.42 L1041.33 383.67 L1045.57 383.92 L1049.13 384.13 L1049.81 384.17 L1054.05 384.41 L1058.29 384.66 L1062.53 384.90 L1065.98 385.10 L1066.77 385.15 L1071.01 385.39 L1075.25 385.63 L1079.49 385.87 L1083.14 386.08 L1083.73 386.11 L1087.97 386.35 L1092.21 386.59 L1096.45 386.83 L1100.60 387.06 L1100.69 387.06 L1104.93 387.30 L1109.17 387.53 L1113.41 387.76 L1117.65 387.99 L1118.37 388.03 L1121.89 388.23 L1126.13 388.46 L1130.37 388.68 L1134.61 388.91 L1136.46 389.01 L1138.84 389.14 L1143.08 389.36 L1147.32 389.59 L1151.56 389.81 L1154.87 389.99 L1155.80 390.04 L1160.04 390.26 L1164.28 390.48 L1168.52 390.70 L1172.76 390.92 L1173.62 390.97 L1177.00 391.14 L1181.24 391.36 L1185.48 391.58 L1189.72 391.79 L1192.69 391.94 L1193.96 392.01 L1198.20 392.22 L1202.44 392.44 L1206.68 392.65 L1210.92 392.86 L1212.11 392.92 L1215.16 393.07 L1219.40 393.28 L1223.64 393.49 L1227.88 393.70 L1231.88 393.90 L1232.12 393.91 L1236.35 394.12 L1240.59 394.32 L1244.83 394.53 L1249.07 394.73 L1252.00 394.87 L1253.31 394.94 L1257.55 395.14 L1261.79 395.34 L1266.03 395.55 L1270.27 395.75 L1272.48 395.85 L1274.51 395.95 L1278.75 396.15 L1282.99 396.35 L1287.23 396.54 L1291.47 396.74 L1293.32 396.83 L1295.71 396.94 L1299.95 397.13 L1304.19 397.33 L1308.43 397.53 L1312.67 397.72 L1314.54 397.81 L1316.91 397.91 L1321.15 398.11 L1325.39 398.30 L1329.63 398.49 L1333.86 398.68 L1336.14 398.78 L1338.10 398.87 L1342.34 399.06 L1346.58 399.25 L1350.82 399.44 L1355.06 399.62 L1358.12 399.76 L1359.30 399.81 L1363.54 400.00 L1367.78 400.18 L1372.02 400.37 L1376.26 400.55 L1380.50 400.74" fill="none" stroke="#808080" stroke-width="1" stroke-dasharray="7.963 2.986 0.995 2.986" stroke-dashoffset="3.16" shape-rendering="crispEdges"/>
<g fill="#0070C0"><circle cx="107.11" cy="409.42" r="3.5"/><circle cx="107.31" cy="424.10" r="3.5"/><circle cx="107.56" cy="437.85" r="3.5"/><circle cx="107.88" cy="451.42" r="3.5"/><circle cx="108.32" cy="465.61" r="3.5"/><circle cx="108.89" cy="479.61" r="3.5"/><circle cx="109.63" cy="493.42" r="3.5"/><circle cx="110.60" cy="507.36" r="3.5"/><circle cx="111.88" cy="521.36" r="3.5"/><circle cx="113.54" cy="535.20" r="3.5"/><circle cx="115.72" cy="549.03" r="3.5"/><circle cx="118.53" cy="562.74" r="3.5"/><circle cx="122.15" cy="576.28" r="3.5"/><circle cx="126.73" cy="589.49" r="3.5"/><circle cx="132.43" cy="602.26" r="3.5"/><circle cx="139.35" cy="614.44" r="3.5"/><circle cx="147.48" cy="625.82" r="3.5"/><circle cx="156.74" cy="636.30" r="3.5"/><circle cx="166.98" cy="645.85" r="3.5"/><circle cx="178.01" cy="654.47" r="3.5"/><circle cx="189.65" cy="662.23" r="3.5"/><circle cx="201.77" cy="669.23" r="3.5"/><circle cx="214.25" cy="675.57" r="3.5"/><circle cx="227.01" cy="681.33" r="3.5"/><circle cx="239.99" cy="686.59" r="3.5"/><circle cx="253.13" cy="691.42" r="3.5"/><circle cx="266.40" cy="695.88" r="3.5"/><circle cx="279.77" cy="700.02" r="3.5"/><circle cx="293.23" cy="703.87" r="3.5"/><circle cx="306.76" cy="707.47" r="3.5"/><circle cx="320.34" cy="710.84" r="3.5"/><circle cx="333.98" cy="714.03" r="3.5"/><circle cx="344.48" cy="716.35" r="3.5"/><circle cx="358.18" cy="719.23" r="3.5"/><circle cx="371.92" cy="721.96" r="3.5"/><circle cx="385.67" cy="724.56" r="3.5"/><circle cx="399.46" cy="727.04" r="3.5"/><circle cx="413.25" cy="729.41" r="3.5"/><circle cx="427.07" cy="731.68" r="3.5"/><circle cx="440.90" cy="733.85" r="3.5"/><circle cx="454.74" cy="735.94" r="3.5"/><circle cx="468.59" cy="737.95" r="3.5"/><circle cx="482.46" cy="739.88" r="3.5"/><circle cx="496.34" cy="741.75" r="3.5"/><circle cx="510.22" cy="743.55" r="3.5"/><circle cx="524.11" cy="745.29" r="3.5"/><circle cx="538.01" cy="746.97" r="3.5"/><circle cx="551.92" cy="748.61" r="3.5"/><circle cx="565.83" cy="750.19" r="3.5"/><circle cx="579.74" cy="751.73" r="3.5"/><circle cx="581.32" cy="751.90" r="3.5"/><circle cx="595.25" cy="753.38" r="3.5"/><circle cx="609.17" cy="754.83" r="3.5"/><circle cx="623.10" cy="756.24" r="3.5"/><circle cx="637.03" cy="757.61" r="3.5"/><circle cx="650.97" cy="758.94" r="3.5"/><circle cx="664.91" cy="760.24" r="3.5"/><circle cx="678.85" cy="761.51" r="3.5"/><circle cx="692.80" cy="762.75" r="3.5"/><circle cx="706.74" cy="763.96" r="3.5"/><circle cx="720.69" cy="765.14" r="3.5"/><circle cx="734.65" cy="766.30" r="3.5"/><circle cx="748.60" cy="767.43" r="3.5"/><circle cx="762.55" cy="768.53" r="3.5"/><circle cx="776.52" cy="769.62" r="3.5"/><circle cx="790.47" cy="770.68" r="3.5"/><circle cx="804.44" cy="771.72" r="3.5"/><circle cx="818.39" cy="772.74" r="3.5"/><circle cx="819.43" cy="772.81" r="3.5"/><circle cx="833.41" cy="773.81" r="3.5"/><circle cx="847.37" cy="774.79" r="3.5"/><circle cx="861.33" cy="775.75" r="3.5"/><circle cx="875.31" cy="776.70" r="3.5"/><circle cx="889.27" cy="777.62" r="3.5"/><circle cx="903.25" cy="778.53" r="3.5"/><circle cx="917.21" cy="779.43" r="3.5"/><circle cx="931.18" cy="780.31" r="3.5"/><circle cx="945.16" cy="781.17" r="3.5"/><circle cx="959.13" cy="782.02" r="3.5"/><circle cx="973.11" cy="782.86" r="3.5"/><circle cx="987.08" cy="783.68" r="3.5"/><circle cx="1001.06" cy="784.49" r="3.5"/><circle cx="1015.04" cy="785.29" r="3.5"/><circle cx="1029.01" cy="786.08" r="3.5"/><circle cx="1043.00" cy="786.85" r="3.5"/><circle cx="1055.88" cy="787.55" r="3.5"/><circle cx="1069.86" cy="788.31" r="3.5"/><circle cx="1083.85" cy="789.05" r="3.5"/><circle cx="1097.84" cy="789.78" r="3.5"/><circle cx="1111.82" cy="790.50" r="3.5"/><circle cx="1125.80" cy="791.21" r="3.5"/><circle cx="1139.78" cy="791.91" r="3.5"/><circle cx="1153.76" cy="792.60" r="3.5"/><circle cx="1167.75" cy="793.29" r="3.5"/><circle cx="1181.73" cy="793.96" r="3.5"/><circle cx="1195.71" cy="794.62" r="3.5"/><circle cx="1209.70" cy="795.28" r="3.5"/><circle cx="1223.68" cy="795.93" r="3.5"/><circle cx="1237.66" cy="796.57" r="3.5"/><circle cx="1251.65" cy="797.20" r="3.5"/><circle cx="1265.63" cy="797.83" r="3.5"/><circle cx="1279.63" cy="798.44" r="3.5"/><circle cx="1293.61" cy="799.05" r="3.5"/><circle cx="1294.44" cy="799.09" r="3.5"/><circle cx="1308.43" cy="799.69" r="3.5"/><circle cx="1322.42" cy="800.29" r="3.5"/><circle cx="1336.41" cy="800.88" r="3.5"/><circle cx="1350.40" cy="801.46" r="3.5"/><circle cx="1364.38" cy="802.03" r="3.5"/><circle cx="1378.37" cy="802.60" r="3.5"/></g>
</g>
<g><line x1="109.0" y1="1153.5" x2="163.0" y2="1153.5" stroke="#000" stroke-width="1"/><text x="167.80" y="1160">ОФЗ</text><text x="209.10" y="1160" textLength="110.50" lengthAdjust="spacingAndGlyphs">(15.06.2019)</text><line x1="377.0" y1="1153.5" x2="431.0" y2="1153.5" stroke="#1F4E79" stroke-width="1" stroke-dasharray="4 3"/><text x="436.00" y="1160">ОФЗ</text><text x="477.90" y="1160" textLength="109.70" lengthAdjust="spacingAndGlyphs">(08.06.2019)</text><line x1="646.0" y1="1153.5" x2="700.0" y2="1153.5" stroke="#C00000" stroke-width="1"/><text x="704.94" y="1160" textLength="79.31" lengthAdjust="spacingAndGlyphs">Нефтегаз</text><line x1="914.5" y1="1153.5" x2="968.5" y2="1153.5" stroke="#C59700" stroke-width="1"/><text x="973.30" y="1160" textLength="91.32" lengthAdjust="spacingAndGlyphs">Транспорт</text><line x1="1183.0" y1="1153.5" x2="1237.0" y2="1153.5" stroke="#00B050" stroke-width="1"/><text x="1240.98" y="1160" textLength="80.45" lengthAdjust="spacingAndGlyphs">Торговля</text><line x1="109.0" y1="1219.5" x2="163.0" y2="1219.5" stroke="#7030A0" stroke-width="1"/><text x="167.77" y="1225" textLength="76.38" lengthAdjust="spacingAndGlyphs">Телеком</text><line x1="377.0" y1="1219.5" x2="431.0" y2="1219.5" stroke="#8496B6" stroke-width="1"/><text x="435.26" y="1225" textLength="99.41" lengthAdjust="spacingAndGlyphs">Энергетика</text><line x1="646.0" y1="1219.5" x2="700.0" y2="1219.5" stroke="#000" stroke-width="1"/><text x="704.81" y="1225" textLength="116.38" lengthAdjust="spacingAndGlyphs">Металлургия</text><line x1="914.5" y1="1219.5" x2="968.5" y2="1219.5" stroke="#808080" stroke-width="1" stroke-dasharray="8 3 1 3"/><text x="972.89" y="1225" textLength="128.34" lengthAdjust="spacingAndGlyphs">Строительство</text><line x1="1183.0" y1="1219.5" x2="1231.0" y2="1219.5" stroke="#0070C0" stroke-width="4.4" stroke-dasharray="0 8" stroke-linecap="round"/><text x="1241.13" y="1225" textLength="53.11" lengthAdjust="spacingAndGlyphs">Банки</text></g>
<g><text x="86.6" y="133.1" text-anchor="end" textLength="35.77" lengthAdjust="spacingAndGlyphs">11.8</text><text x="86.6" y="288.1" text-anchor="end" textLength="37.19" lengthAdjust="spacingAndGlyphs">10.8</text><text x="86.6" y="443.1" text-anchor="end" textLength="26.56" lengthAdjust="spacingAndGlyphs">9.8</text><text x="86.6" y="598.1" text-anchor="end" textLength="26.56" lengthAdjust="spacingAndGlyphs">8.8</text><text x="86.6" y="753.1" text-anchor="end" textLength="26.56" lengthAdjust="spacingAndGlyphs">7.8</text><text x="86.6" y="908.1" text-anchor="end" textLength="26.56" lengthAdjust="spacingAndGlyphs">6.8</text><text x="86.6" y="1063.1" text-anchor="end" textLength="26.56" lengthAdjust="spacingAndGlyphs">5.8</text><text x="105.7" y="1097" text-anchor="middle">0</text><text x="233.1" y="1097" text-anchor="middle" textLength="31.44" lengthAdjust="spacingAndGlyphs">200</text><text x="360.5" y="1097" text-anchor="middle" textLength="31.44" lengthAdjust="spacingAndGlyphs">400</text><text x="487.9" y="1097" text-anchor="middle" textLength="31.44" lengthAdjust="spacingAndGlyphs">600</text><text x="615.3" y="1097" text-anchor="middle" textLength="31.44" lengthAdjust="spacingAndGlyphs">800</text><text x="744.1" y="1097" text-anchor="middle" textLength="43.31" lengthAdjust="spacingAndGlyphs">1000</text><text x="871.5" y="1097" text-anchor="middle" textLength="43.31" lengthAdjust="spacingAndGlyphs">1200</text><text x="998.9" y="1097" text-anchor="middle" textLength="43.31" lengthAdjust="spacingAndGlyphs">1400</text><text x="1126.3" y="1097" text-anchor="middle" textLength="43.31" lengthAdjust="spacingAndGlyphs">1600</text><text x="1253.7" y="1097" text-anchor="middle" textLength="43.31" lengthAdjust="spacingAndGlyphs">1800</text><text x="1381.1" y="1097" text-anchor="middle" textLength="43.31" lengthAdjust="spacingAndGlyphs">2000</text></g>
</svg>
</body></html>
